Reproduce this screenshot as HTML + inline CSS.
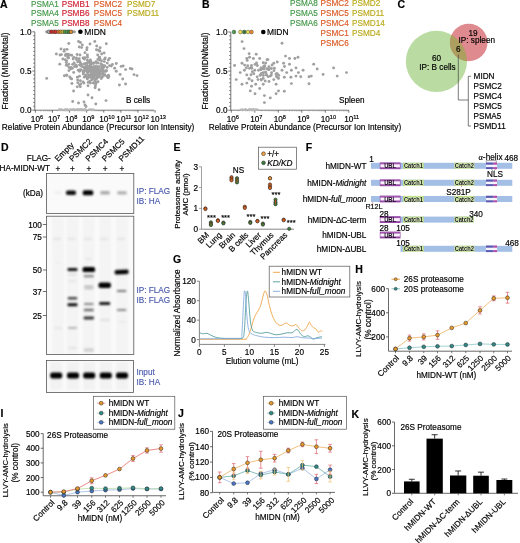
<!DOCTYPE html>
<html><head><meta charset="utf-8"><style>
html,body{margin:0;padding:0;background:#fff;overflow:hidden;}
svg{display:block;will-change:transform;}
</style></head><body>
<svg width="520" height="543" viewBox="0 0 520 543" font-family="Liberation Sans, sans-serif">
<defs><filter id="bl" x="-50%" y="-150%" width="200%" height="400%"><feGaussianBlur stdDeviation="0.9"/></filter></defs>
<rect width="520" height="543" fill="#fff"/>
<text x="0.00" y="8.30" font-size="10.5" fill="#000" text-anchor="start" font-weight="bold" font-style="normal" stroke="#000" stroke-width="0.17" >A</text>
<text x="31.00" y="6.60" font-size="8.2" fill="#45994a" text-anchor="start" font-weight="normal" font-style="normal" stroke="#45994a" stroke-width="0.17" >PSMA1</text>
<text x="61.70" y="6.60" font-size="8.2" fill="#d02638" text-anchor="start" font-weight="normal" font-style="normal" stroke="#d02638" stroke-width="0.17" >PSMB1</text>
<text x="93.80" y="6.60" font-size="8.2" fill="#dc5c28" text-anchor="start" font-weight="normal" font-style="normal" stroke="#dc5c28" stroke-width="0.17" >PSMC2</text>
<text x="127.00" y="6.60" font-size="8.2" fill="#bcab1e" text-anchor="start" font-weight="normal" font-style="normal" stroke="#bcab1e" stroke-width="0.17" >PSMD7</text>
<text x="31.00" y="16.20" font-size="8.2" fill="#45994a" text-anchor="start" font-weight="normal" font-style="normal" stroke="#45994a" stroke-width="0.17" >PSMA4</text>
<text x="61.70" y="16.20" font-size="8.2" fill="#d02638" text-anchor="start" font-weight="normal" font-style="normal" stroke="#d02638" stroke-width="0.17" >PSMB6</text>
<text x="93.80" y="16.20" font-size="8.2" fill="#dc5c28" text-anchor="start" font-weight="normal" font-style="normal" stroke="#dc5c28" stroke-width="0.17" >PSMC5</text>
<text x="127.00" y="16.20" font-size="8.2" fill="#bcab1e" text-anchor="start" font-weight="normal" font-style="normal" stroke="#bcab1e" stroke-width="0.17" >PSMD11</text>
<text x="31.00" y="25.80" font-size="8.2" fill="#45994a" text-anchor="start" font-weight="normal" font-style="normal" stroke="#45994a" stroke-width="0.17" >PSMA5</text>
<text x="61.70" y="25.80" font-size="8.2" fill="#d02638" text-anchor="start" font-weight="normal" font-style="normal" stroke="#d02638" stroke-width="0.17" >PSMB8</text>
<text x="93.80" y="25.80" font-size="8.2" fill="#dc5c28" text-anchor="start" font-weight="normal" font-style="normal" stroke="#dc5c28" stroke-width="0.17" >PSMC4</text>
<line x1="34.80" y1="31.80" x2="34.80" y2="110.70" stroke="#555" stroke-width="0.8" />
<line x1="34.80" y1="110.20" x2="154.10" y2="110.20" stroke="#555" stroke-width="0.8" />
<line x1="32.30" y1="31.80" x2="34.80" y2="31.80" stroke="#555" stroke-width="0.8" />
<text x="31.50" y="34.80" font-size="8.2" fill="#000" text-anchor="end" font-weight="normal" font-style="normal" stroke="#000" stroke-width="0.17" >1.0</text>
<line x1="32.30" y1="71.00" x2="34.80" y2="71.00" stroke="#555" stroke-width="0.8" />
<text x="31.50" y="74.00" font-size="8.2" fill="#000" text-anchor="end" font-weight="normal" font-style="normal" stroke="#000" stroke-width="0.17" >0.5</text>
<line x1="32.30" y1="110.20" x2="34.80" y2="110.20" stroke="#555" stroke-width="0.8" />
<text x="31.50" y="113.20" font-size="8.2" fill="#000" text-anchor="end" font-weight="normal" font-style="normal" stroke="#000" stroke-width="0.17" >0.0</text>
<line x1="33.10" y1="106.28" x2="34.80" y2="106.28" stroke="#555" stroke-width="0.7" />
<line x1="33.10" y1="102.36" x2="34.80" y2="102.36" stroke="#555" stroke-width="0.7" />
<line x1="33.10" y1="98.44" x2="34.80" y2="98.44" stroke="#555" stroke-width="0.7" />
<line x1="33.10" y1="94.52" x2="34.80" y2="94.52" stroke="#555" stroke-width="0.7" />
<line x1="33.10" y1="90.60" x2="34.80" y2="90.60" stroke="#555" stroke-width="0.7" />
<line x1="33.10" y1="86.68" x2="34.80" y2="86.68" stroke="#555" stroke-width="0.7" />
<line x1="33.10" y1="82.76" x2="34.80" y2="82.76" stroke="#555" stroke-width="0.7" />
<line x1="33.10" y1="78.84" x2="34.80" y2="78.84" stroke="#555" stroke-width="0.7" />
<line x1="33.10" y1="74.92" x2="34.80" y2="74.92" stroke="#555" stroke-width="0.7" />
<line x1="33.10" y1="67.08" x2="34.80" y2="67.08" stroke="#555" stroke-width="0.7" />
<line x1="33.10" y1="63.16" x2="34.80" y2="63.16" stroke="#555" stroke-width="0.7" />
<line x1="33.10" y1="59.24" x2="34.80" y2="59.24" stroke="#555" stroke-width="0.7" />
<line x1="33.10" y1="55.32" x2="34.80" y2="55.32" stroke="#555" stroke-width="0.7" />
<line x1="33.10" y1="51.40" x2="34.80" y2="51.40" stroke="#555" stroke-width="0.7" />
<line x1="33.10" y1="47.48" x2="34.80" y2="47.48" stroke="#555" stroke-width="0.7" />
<line x1="33.10" y1="43.56" x2="34.80" y2="43.56" stroke="#555" stroke-width="0.7" />
<line x1="33.10" y1="39.64" x2="34.80" y2="39.64" stroke="#555" stroke-width="0.7" />
<line x1="33.10" y1="35.72" x2="34.80" y2="35.72" stroke="#555" stroke-width="0.7" />
<line x1="35.40" y1="110.20" x2="35.40" y2="112.70" stroke="#555" stroke-width="0.8" />
<text x="30.84" y="122.40" font-size="8.2" stroke="#000" stroke-width="0.17">10<tspan font-size="5.6" dy="-3.6">6</tspan></text>
<line x1="40.55" y1="110.20" x2="40.55" y2="111.50" stroke="#888" stroke-width="0.45" />
<line x1="43.56" y1="110.20" x2="43.56" y2="111.50" stroke="#888" stroke-width="0.45" />
<line x1="45.70" y1="110.20" x2="45.70" y2="111.50" stroke="#888" stroke-width="0.45" />
<line x1="47.35" y1="110.20" x2="47.35" y2="111.50" stroke="#888" stroke-width="0.45" />
<line x1="48.71" y1="110.20" x2="48.71" y2="111.50" stroke="#888" stroke-width="0.45" />
<line x1="49.85" y1="110.20" x2="49.85" y2="111.50" stroke="#888" stroke-width="0.45" />
<line x1="50.84" y1="110.20" x2="50.84" y2="111.50" stroke="#888" stroke-width="0.45" />
<line x1="51.72" y1="110.20" x2="51.72" y2="111.50" stroke="#888" stroke-width="0.45" />
<line x1="52.50" y1="110.20" x2="52.50" y2="112.70" stroke="#555" stroke-width="0.8" />
<text x="47.94" y="122.40" font-size="8.2" stroke="#000" stroke-width="0.17">10<tspan font-size="5.6" dy="-3.6">7</tspan></text>
<line x1="57.65" y1="110.20" x2="57.65" y2="111.50" stroke="#888" stroke-width="0.45" />
<line x1="60.66" y1="110.20" x2="60.66" y2="111.50" stroke="#888" stroke-width="0.45" />
<line x1="62.80" y1="110.20" x2="62.80" y2="111.50" stroke="#888" stroke-width="0.45" />
<line x1="64.45" y1="110.20" x2="64.45" y2="111.50" stroke="#888" stroke-width="0.45" />
<line x1="65.81" y1="110.20" x2="65.81" y2="111.50" stroke="#888" stroke-width="0.45" />
<line x1="66.95" y1="110.20" x2="66.95" y2="111.50" stroke="#888" stroke-width="0.45" />
<line x1="67.94" y1="110.20" x2="67.94" y2="111.50" stroke="#888" stroke-width="0.45" />
<line x1="68.82" y1="110.20" x2="68.82" y2="111.50" stroke="#888" stroke-width="0.45" />
<line x1="69.60" y1="110.20" x2="69.60" y2="112.70" stroke="#555" stroke-width="0.8" />
<text x="65.04" y="122.40" font-size="8.2" stroke="#000" stroke-width="0.17">10<tspan font-size="5.6" dy="-3.6">8</tspan></text>
<line x1="74.75" y1="110.20" x2="74.75" y2="111.50" stroke="#888" stroke-width="0.45" />
<line x1="77.76" y1="110.20" x2="77.76" y2="111.50" stroke="#888" stroke-width="0.45" />
<line x1="79.90" y1="110.20" x2="79.90" y2="111.50" stroke="#888" stroke-width="0.45" />
<line x1="81.55" y1="110.20" x2="81.55" y2="111.50" stroke="#888" stroke-width="0.45" />
<line x1="82.91" y1="110.20" x2="82.91" y2="111.50" stroke="#888" stroke-width="0.45" />
<line x1="84.05" y1="110.20" x2="84.05" y2="111.50" stroke="#888" stroke-width="0.45" />
<line x1="85.04" y1="110.20" x2="85.04" y2="111.50" stroke="#888" stroke-width="0.45" />
<line x1="85.92" y1="110.20" x2="85.92" y2="111.50" stroke="#888" stroke-width="0.45" />
<line x1="86.70" y1="110.20" x2="86.70" y2="112.70" stroke="#555" stroke-width="0.8" />
<text x="82.14" y="122.40" font-size="8.2" stroke="#000" stroke-width="0.17">10<tspan font-size="5.6" dy="-3.6">9</tspan></text>
<line x1="91.85" y1="110.20" x2="91.85" y2="111.50" stroke="#888" stroke-width="0.45" />
<line x1="94.86" y1="110.20" x2="94.86" y2="111.50" stroke="#888" stroke-width="0.45" />
<line x1="97.00" y1="110.20" x2="97.00" y2="111.50" stroke="#888" stroke-width="0.45" />
<line x1="98.65" y1="110.20" x2="98.65" y2="111.50" stroke="#888" stroke-width="0.45" />
<line x1="100.01" y1="110.20" x2="100.01" y2="111.50" stroke="#888" stroke-width="0.45" />
<line x1="101.15" y1="110.20" x2="101.15" y2="111.50" stroke="#888" stroke-width="0.45" />
<line x1="102.14" y1="110.20" x2="102.14" y2="111.50" stroke="#888" stroke-width="0.45" />
<line x1="103.02" y1="110.20" x2="103.02" y2="111.50" stroke="#888" stroke-width="0.45" />
<line x1="103.80" y1="110.20" x2="103.80" y2="112.70" stroke="#555" stroke-width="0.8" />
<text x="99.24" y="122.40" font-size="8.2" stroke="#000" stroke-width="0.17">10<tspan font-size="5.6" dy="-3.6">10</tspan></text>
<line x1="108.95" y1="110.20" x2="108.95" y2="111.50" stroke="#888" stroke-width="0.45" />
<line x1="111.96" y1="110.20" x2="111.96" y2="111.50" stroke="#888" stroke-width="0.45" />
<line x1="114.10" y1="110.20" x2="114.10" y2="111.50" stroke="#888" stroke-width="0.45" />
<line x1="115.75" y1="110.20" x2="115.75" y2="111.50" stroke="#888" stroke-width="0.45" />
<line x1="117.11" y1="110.20" x2="117.11" y2="111.50" stroke="#888" stroke-width="0.45" />
<line x1="118.25" y1="110.20" x2="118.25" y2="111.50" stroke="#888" stroke-width="0.45" />
<line x1="119.24" y1="110.20" x2="119.24" y2="111.50" stroke="#888" stroke-width="0.45" />
<line x1="120.12" y1="110.20" x2="120.12" y2="111.50" stroke="#888" stroke-width="0.45" />
<line x1="120.90" y1="110.20" x2="120.90" y2="112.70" stroke="#555" stroke-width="0.8" />
<text x="116.34" y="122.40" font-size="8.2" stroke="#000" stroke-width="0.17">10<tspan font-size="5.6" dy="-3.6">11</tspan></text>
<line x1="126.05" y1="110.20" x2="126.05" y2="111.50" stroke="#888" stroke-width="0.45" />
<line x1="129.06" y1="110.20" x2="129.06" y2="111.50" stroke="#888" stroke-width="0.45" />
<line x1="131.20" y1="110.20" x2="131.20" y2="111.50" stroke="#888" stroke-width="0.45" />
<line x1="132.85" y1="110.20" x2="132.85" y2="111.50" stroke="#888" stroke-width="0.45" />
<line x1="134.21" y1="110.20" x2="134.21" y2="111.50" stroke="#888" stroke-width="0.45" />
<line x1="135.35" y1="110.20" x2="135.35" y2="111.50" stroke="#888" stroke-width="0.45" />
<line x1="136.34" y1="110.20" x2="136.34" y2="111.50" stroke="#888" stroke-width="0.45" />
<line x1="137.22" y1="110.20" x2="137.22" y2="111.50" stroke="#888" stroke-width="0.45" />
<line x1="138.00" y1="110.20" x2="138.00" y2="112.70" stroke="#555" stroke-width="0.8" />
<text x="133.44" y="122.40" font-size="8.2" stroke="#000" stroke-width="0.17">10<tspan font-size="5.6" dy="-3.6">12</tspan></text>
<line x1="143.15" y1="110.20" x2="143.15" y2="111.50" stroke="#888" stroke-width="0.45" />
<line x1="146.16" y1="110.20" x2="146.16" y2="111.50" stroke="#888" stroke-width="0.45" />
<line x1="148.30" y1="110.20" x2="148.30" y2="111.50" stroke="#888" stroke-width="0.45" />
<line x1="149.95" y1="110.20" x2="149.95" y2="111.50" stroke="#888" stroke-width="0.45" />
<line x1="151.31" y1="110.20" x2="151.31" y2="111.50" stroke="#888" stroke-width="0.45" />
<line x1="152.45" y1="110.20" x2="152.45" y2="111.50" stroke="#888" stroke-width="0.45" />
<line x1="153.44" y1="110.20" x2="153.44" y2="111.50" stroke="#888" stroke-width="0.45" />
<line x1="154.32" y1="110.20" x2="154.32" y2="111.50" stroke="#888" stroke-width="0.45" />
<line x1="155.10" y1="110.20" x2="155.10" y2="112.70" stroke="#555" stroke-width="0.8" />
<text x="150.54" y="122.40" font-size="8.2" stroke="#000" stroke-width="0.17">10<tspan font-size="5.6" dy="-3.6">13</tspan></text>
<text x="98.10" y="130.00" font-size="8.28" fill="#000" text-anchor="middle" font-weight="normal" font-style="normal" stroke="#000" stroke-width="0.17" >Relative Protein Abundance (Precursor Ion Intensity)</text>
<text transform="translate(8.00,71.00) rotate(-90)" font-size="8.3" text-anchor="middle" fill="#000" stroke="#000" stroke-width="0.17">Fraction (MIDN/total)</text>
<text x="126.00" y="103.00" font-size="8.2" fill="#000" text-anchor="start" font-weight="normal" font-style="normal" stroke="#000" stroke-width="0.17" >B cells</text>
<circle cx="73.70" cy="72.40" r="1.45" fill="#a0a0a0" stroke="none" stroke-width="0.5" />
<circle cx="101.44" cy="64.38" r="1.45" fill="#a0a0a0" stroke="none" stroke-width="0.5" />
<circle cx="72.39" cy="68.41" r="1.45" fill="#a0a0a0" stroke="none" stroke-width="0.5" />
<circle cx="94.98" cy="78.88" r="1.45" fill="#a0a0a0" stroke="none" stroke-width="0.5" />
<circle cx="73.80" cy="57.36" r="1.45" fill="#a0a0a0" stroke="none" stroke-width="0.5" />
<circle cx="97.82" cy="73.27" r="1.45" fill="#a0a0a0" stroke="none" stroke-width="0.5" />
<circle cx="108.17" cy="77.84" r="1.45" fill="#a0a0a0" stroke="none" stroke-width="0.5" />
<circle cx="87.73" cy="66.53" r="1.45" fill="#a0a0a0" stroke="none" stroke-width="0.5" />
<circle cx="121.13" cy="66.40" r="1.45" fill="#a0a0a0" stroke="none" stroke-width="0.5" />
<circle cx="79.19" cy="58.75" r="1.45" fill="#a0a0a0" stroke="none" stroke-width="0.5" />
<circle cx="90.19" cy="70.31" r="1.45" fill="#a0a0a0" stroke="none" stroke-width="0.5" />
<circle cx="84.69" cy="68.44" r="1.45" fill="#a0a0a0" stroke="none" stroke-width="0.5" />
<circle cx="92.41" cy="75.23" r="1.45" fill="#a0a0a0" stroke="none" stroke-width="0.5" />
<circle cx="102.71" cy="70.89" r="1.45" fill="#a0a0a0" stroke="none" stroke-width="0.5" />
<circle cx="66.63" cy="75.32" r="1.45" fill="#a0a0a0" stroke="none" stroke-width="0.5" />
<circle cx="71.25" cy="67.46" r="1.45" fill="#a0a0a0" stroke="none" stroke-width="0.5" />
<circle cx="70.58" cy="69.02" r="1.45" fill="#a0a0a0" stroke="none" stroke-width="0.5" />
<circle cx="79.27" cy="70.92" r="1.45" fill="#a0a0a0" stroke="none" stroke-width="0.5" />
<circle cx="130.25" cy="68.56" r="1.45" fill="#a0a0a0" stroke="none" stroke-width="0.5" />
<circle cx="99.53" cy="57.09" r="1.45" fill="#a0a0a0" stroke="none" stroke-width="0.5" />
<circle cx="85.40" cy="74.96" r="1.45" fill="#a0a0a0" stroke="none" stroke-width="0.5" />
<circle cx="87.84" cy="72.33" r="1.45" fill="#a0a0a0" stroke="none" stroke-width="0.5" />
<circle cx="90.29" cy="59.94" r="1.45" fill="#a0a0a0" stroke="none" stroke-width="0.5" />
<circle cx="96.05" cy="61.69" r="1.45" fill="#a0a0a0" stroke="none" stroke-width="0.5" />
<circle cx="112.40" cy="64.45" r="1.45" fill="#a0a0a0" stroke="none" stroke-width="0.5" />
<circle cx="97.58" cy="69.02" r="1.45" fill="#a0a0a0" stroke="none" stroke-width="0.5" />
<circle cx="100.91" cy="63.58" r="1.45" fill="#a0a0a0" stroke="none" stroke-width="0.5" />
<circle cx="101.49" cy="67.88" r="1.45" fill="#a0a0a0" stroke="none" stroke-width="0.5" />
<circle cx="104.79" cy="74.62" r="1.45" fill="#a0a0a0" stroke="none" stroke-width="0.5" />
<circle cx="90.77" cy="61.98" r="1.45" fill="#a0a0a0" stroke="none" stroke-width="0.5" />
<circle cx="98.60" cy="73.21" r="1.45" fill="#a0a0a0" stroke="none" stroke-width="0.5" />
<circle cx="109.52" cy="65.61" r="1.45" fill="#a0a0a0" stroke="none" stroke-width="0.5" />
<circle cx="95.93" cy="73.57" r="1.45" fill="#a0a0a0" stroke="none" stroke-width="0.5" />
<circle cx="92.54" cy="70.88" r="1.45" fill="#a0a0a0" stroke="none" stroke-width="0.5" />
<circle cx="91.28" cy="63.61" r="1.45" fill="#a0a0a0" stroke="none" stroke-width="0.5" />
<circle cx="76.32" cy="65.43" r="1.45" fill="#a0a0a0" stroke="none" stroke-width="0.5" />
<circle cx="96.39" cy="82.60" r="1.45" fill="#a0a0a0" stroke="none" stroke-width="0.5" />
<circle cx="101.21" cy="78.48" r="1.45" fill="#a0a0a0" stroke="none" stroke-width="0.5" />
<circle cx="98.72" cy="75.29" r="1.45" fill="#a0a0a0" stroke="none" stroke-width="0.5" />
<circle cx="91.29" cy="75.94" r="1.45" fill="#a0a0a0" stroke="none" stroke-width="0.5" />
<circle cx="111.17" cy="66.05" r="1.45" fill="#a0a0a0" stroke="none" stroke-width="0.5" />
<circle cx="80.33" cy="86.64" r="1.45" fill="#a0a0a0" stroke="none" stroke-width="0.5" />
<circle cx="92.06" cy="77.74" r="1.45" fill="#a0a0a0" stroke="none" stroke-width="0.5" />
<circle cx="99.92" cy="58.78" r="1.45" fill="#a0a0a0" stroke="none" stroke-width="0.5" />
<circle cx="119.42" cy="84.98" r="1.45" fill="#a0a0a0" stroke="none" stroke-width="0.5" />
<circle cx="91.21" cy="75.77" r="1.45" fill="#a0a0a0" stroke="none" stroke-width="0.5" />
<circle cx="90.59" cy="61.04" r="1.45" fill="#a0a0a0" stroke="none" stroke-width="0.5" />
<circle cx="87.60" cy="72.37" r="1.45" fill="#a0a0a0" stroke="none" stroke-width="0.5" />
<circle cx="102.95" cy="75.38" r="1.45" fill="#a0a0a0" stroke="none" stroke-width="0.5" />
<circle cx="89.74" cy="81.19" r="1.45" fill="#a0a0a0" stroke="none" stroke-width="0.5" />
<circle cx="79.49" cy="76.14" r="1.45" fill="#a0a0a0" stroke="none" stroke-width="0.5" />
<circle cx="102.90" cy="66.37" r="1.45" fill="#a0a0a0" stroke="none" stroke-width="0.5" />
<circle cx="66.62" cy="60.84" r="1.45" fill="#a0a0a0" stroke="none" stroke-width="0.5" />
<circle cx="91.96" cy="73.75" r="1.45" fill="#a0a0a0" stroke="none" stroke-width="0.5" />
<circle cx="108.35" cy="59.96" r="1.45" fill="#a0a0a0" stroke="none" stroke-width="0.5" />
<circle cx="89.03" cy="74.84" r="1.45" fill="#a0a0a0" stroke="none" stroke-width="0.5" />
<circle cx="87.03" cy="47.67" r="1.45" fill="#a0a0a0" stroke="none" stroke-width="0.5" />
<circle cx="99.08" cy="89.81" r="1.45" fill="#a0a0a0" stroke="none" stroke-width="0.5" />
<circle cx="101.55" cy="60.74" r="1.45" fill="#a0a0a0" stroke="none" stroke-width="0.5" />
<circle cx="83.85" cy="71.00" r="1.45" fill="#a0a0a0" stroke="none" stroke-width="0.5" />
<circle cx="120.11" cy="74.56" r="1.45" fill="#a0a0a0" stroke="none" stroke-width="0.5" />
<circle cx="90.42" cy="83.02" r="1.45" fill="#a0a0a0" stroke="none" stroke-width="0.5" />
<circle cx="87.98" cy="85.75" r="1.45" fill="#a0a0a0" stroke="none" stroke-width="0.5" />
<circle cx="80.44" cy="64.73" r="1.45" fill="#a0a0a0" stroke="none" stroke-width="0.5" />
<circle cx="98.01" cy="81.82" r="1.45" fill="#a0a0a0" stroke="none" stroke-width="0.5" />
<circle cx="97.17" cy="71.71" r="1.45" fill="#a0a0a0" stroke="none" stroke-width="0.5" />
<circle cx="66.23" cy="62.58" r="1.45" fill="#a0a0a0" stroke="none" stroke-width="0.5" />
<circle cx="81.37" cy="64.20" r="1.45" fill="#a0a0a0" stroke="none" stroke-width="0.5" />
<circle cx="96.33" cy="65.98" r="1.45" fill="#a0a0a0" stroke="none" stroke-width="0.5" />
<circle cx="98.85" cy="69.74" r="1.45" fill="#a0a0a0" stroke="none" stroke-width="0.5" />
<circle cx="84.84" cy="70.06" r="1.45" fill="#a0a0a0" stroke="none" stroke-width="0.5" />
<circle cx="94.36" cy="76.72" r="1.45" fill="#a0a0a0" stroke="none" stroke-width="0.5" />
<circle cx="83.03" cy="66.91" r="1.45" fill="#a0a0a0" stroke="none" stroke-width="0.5" />
<circle cx="71.95" cy="83.43" r="1.45" fill="#a0a0a0" stroke="none" stroke-width="0.5" />
<circle cx="107.15" cy="67.39" r="1.45" fill="#a0a0a0" stroke="none" stroke-width="0.5" />
<circle cx="83.02" cy="57.88" r="1.45" fill="#a0a0a0" stroke="none" stroke-width="0.5" />
<circle cx="91.12" cy="70.86" r="1.45" fill="#a0a0a0" stroke="none" stroke-width="0.5" />
<circle cx="116.27" cy="71.22" r="1.45" fill="#a0a0a0" stroke="none" stroke-width="0.5" />
<circle cx="79.28" cy="47.00" r="1.45" fill="#a0a0a0" stroke="none" stroke-width="0.5" />
<circle cx="106.62" cy="70.70" r="1.45" fill="#a0a0a0" stroke="none" stroke-width="0.5" />
<circle cx="68.88" cy="70.62" r="1.45" fill="#a0a0a0" stroke="none" stroke-width="0.5" />
<circle cx="102.99" cy="74.15" r="1.45" fill="#a0a0a0" stroke="none" stroke-width="0.5" />
<circle cx="86.81" cy="49.74" r="1.45" fill="#a0a0a0" stroke="none" stroke-width="0.5" />
<circle cx="87.42" cy="55.01" r="1.45" fill="#a0a0a0" stroke="none" stroke-width="0.5" />
<circle cx="96.45" cy="49.75" r="1.45" fill="#a0a0a0" stroke="none" stroke-width="0.5" />
<circle cx="77.65" cy="79.98" r="1.45" fill="#a0a0a0" stroke="none" stroke-width="0.5" />
<circle cx="109.55" cy="58.37" r="1.45" fill="#a0a0a0" stroke="none" stroke-width="0.5" />
<circle cx="69.83" cy="76.91" r="1.45" fill="#a0a0a0" stroke="none" stroke-width="0.5" />
<circle cx="99.66" cy="60.12" r="1.45" fill="#a0a0a0" stroke="none" stroke-width="0.5" />
<circle cx="80.32" cy="62.75" r="1.45" fill="#a0a0a0" stroke="none" stroke-width="0.5" />
<circle cx="74.13" cy="62.88" r="1.45" fill="#a0a0a0" stroke="none" stroke-width="0.5" />
<circle cx="104.63" cy="75.21" r="1.45" fill="#a0a0a0" stroke="none" stroke-width="0.5" />
<circle cx="114.71" cy="68.22" r="1.45" fill="#a0a0a0" stroke="none" stroke-width="0.5" />
<circle cx="87.31" cy="60.16" r="1.45" fill="#a0a0a0" stroke="none" stroke-width="0.5" />
<circle cx="87.45" cy="57.18" r="1.45" fill="#a0a0a0" stroke="none" stroke-width="0.5" />
<circle cx="66.78" cy="75.27" r="1.45" fill="#a0a0a0" stroke="none" stroke-width="0.5" />
<circle cx="107.00" cy="76.53" r="1.45" fill="#a0a0a0" stroke="none" stroke-width="0.5" />
<circle cx="105.66" cy="71.27" r="1.45" fill="#a0a0a0" stroke="none" stroke-width="0.5" />
<circle cx="80.02" cy="69.78" r="1.45" fill="#a0a0a0" stroke="none" stroke-width="0.5" />
<circle cx="84.32" cy="59.00" r="1.45" fill="#a0a0a0" stroke="none" stroke-width="0.5" />
<circle cx="67.84" cy="55.66" r="1.45" fill="#a0a0a0" stroke="none" stroke-width="0.5" />
<circle cx="88.93" cy="70.36" r="1.45" fill="#a0a0a0" stroke="none" stroke-width="0.5" />
<circle cx="83.07" cy="81.86" r="1.45" fill="#a0a0a0" stroke="none" stroke-width="0.5" />
<circle cx="91.24" cy="74.25" r="1.45" fill="#a0a0a0" stroke="none" stroke-width="0.5" />
<circle cx="104.23" cy="61.62" r="1.45" fill="#a0a0a0" stroke="none" stroke-width="0.5" />
<circle cx="64.38" cy="75.77" r="1.45" fill="#a0a0a0" stroke="none" stroke-width="0.5" />
<circle cx="80.39" cy="80.80" r="1.45" fill="#a0a0a0" stroke="none" stroke-width="0.5" />
<circle cx="93.22" cy="78.06" r="1.45" fill="#a0a0a0" stroke="none" stroke-width="0.5" />
<circle cx="98.55" cy="50.27" r="1.45" fill="#a0a0a0" stroke="none" stroke-width="0.5" />
<circle cx="97.99" cy="62.94" r="1.45" fill="#a0a0a0" stroke="none" stroke-width="0.5" />
<circle cx="79.55" cy="65.08" r="1.45" fill="#a0a0a0" stroke="none" stroke-width="0.5" />
<circle cx="98.60" cy="76.96" r="1.45" fill="#a0a0a0" stroke="none" stroke-width="0.5" />
<circle cx="101.64" cy="54.06" r="1.45" fill="#a0a0a0" stroke="none" stroke-width="0.5" />
<circle cx="81.62" cy="47.62" r="1.45" fill="#a0a0a0" stroke="none" stroke-width="0.5" />
<circle cx="87.72" cy="74.40" r="1.45" fill="#a0a0a0" stroke="none" stroke-width="0.5" />
<circle cx="79.45" cy="71.20" r="1.45" fill="#a0a0a0" stroke="none" stroke-width="0.5" />
<circle cx="91.89" cy="78.07" r="1.45" fill="#a0a0a0" stroke="none" stroke-width="0.5" />
<circle cx="78.73" cy="61.54" r="1.45" fill="#a0a0a0" stroke="none" stroke-width="0.5" />
<circle cx="79.46" cy="84.77" r="1.45" fill="#a0a0a0" stroke="none" stroke-width="0.5" />
<circle cx="102.63" cy="67.89" r="1.45" fill="#a0a0a0" stroke="none" stroke-width="0.5" />
<circle cx="91.82" cy="70.03" r="1.45" fill="#a0a0a0" stroke="none" stroke-width="0.5" />
<circle cx="91.54" cy="67.12" r="1.45" fill="#a0a0a0" stroke="none" stroke-width="0.5" />
<circle cx="84.82" cy="57.69" r="1.45" fill="#a0a0a0" stroke="none" stroke-width="0.5" />
<circle cx="80.98" cy="83.85" r="1.45" fill="#a0a0a0" stroke="none" stroke-width="0.5" />
<circle cx="95.71" cy="69.58" r="1.45" fill="#a0a0a0" stroke="none" stroke-width="0.5" />
<circle cx="86.31" cy="69.56" r="1.45" fill="#a0a0a0" stroke="none" stroke-width="0.5" />
<circle cx="93.42" cy="63.19" r="1.45" fill="#a0a0a0" stroke="none" stroke-width="0.5" />
<circle cx="91.45" cy="71.16" r="1.45" fill="#a0a0a0" stroke="none" stroke-width="0.5" />
<circle cx="79.64" cy="61.90" r="1.45" fill="#a0a0a0" stroke="none" stroke-width="0.5" />
<circle cx="76.51" cy="59.43" r="1.45" fill="#a0a0a0" stroke="none" stroke-width="0.5" />
<circle cx="100.12" cy="47.76" r="1.45" fill="#a0a0a0" stroke="none" stroke-width="0.5" />
<circle cx="85.67" cy="63.50" r="1.45" fill="#a0a0a0" stroke="none" stroke-width="0.5" />
<circle cx="81.25" cy="69.88" r="1.45" fill="#a0a0a0" stroke="none" stroke-width="0.5" />
<circle cx="103.10" cy="69.69" r="1.45" fill="#a0a0a0" stroke="none" stroke-width="0.5" />
<circle cx="87.25" cy="63.49" r="1.45" fill="#a0a0a0" stroke="none" stroke-width="0.5" />
<circle cx="87.39" cy="77.21" r="1.45" fill="#a0a0a0" stroke="none" stroke-width="0.5" />
<circle cx="84.07" cy="58.68" r="1.45" fill="#a0a0a0" stroke="none" stroke-width="0.5" />
<circle cx="73.20" cy="59.04" r="1.45" fill="#a0a0a0" stroke="none" stroke-width="0.5" />
<circle cx="71.63" cy="78.89" r="1.45" fill="#a0a0a0" stroke="none" stroke-width="0.5" />
<circle cx="93.44" cy="66.86" r="1.45" fill="#a0a0a0" stroke="none" stroke-width="0.5" />
<circle cx="107.24" cy="63.08" r="1.45" fill="#a0a0a0" stroke="none" stroke-width="0.5" />
<circle cx="98.41" cy="76.21" r="1.45" fill="#a0a0a0" stroke="none" stroke-width="0.5" />
<circle cx="69.67" cy="54.99" r="1.45" fill="#a0a0a0" stroke="none" stroke-width="0.5" />
<circle cx="77.41" cy="77.16" r="1.45" fill="#a0a0a0" stroke="none" stroke-width="0.5" />
<circle cx="105.20" cy="57.95" r="1.45" fill="#a0a0a0" stroke="none" stroke-width="0.5" />
<circle cx="102.11" cy="65.55" r="1.45" fill="#a0a0a0" stroke="none" stroke-width="0.5" />
<circle cx="84.08" cy="64.04" r="1.45" fill="#a0a0a0" stroke="none" stroke-width="0.5" />
<circle cx="84.95" cy="52.64" r="1.45" fill="#a0a0a0" stroke="none" stroke-width="0.5" />
<circle cx="76.48" cy="57.88" r="1.45" fill="#a0a0a0" stroke="none" stroke-width="0.5" />
<circle cx="95.13" cy="87.80" r="1.45" fill="#a0a0a0" stroke="none" stroke-width="0.5" />
<circle cx="123.15" cy="65.97" r="1.45" fill="#a0a0a0" stroke="none" stroke-width="0.5" />
<circle cx="67.48" cy="65.34" r="1.45" fill="#a0a0a0" stroke="none" stroke-width="0.5" />
<circle cx="77.26" cy="86.85" r="1.45" fill="#a0a0a0" stroke="none" stroke-width="0.5" />
<circle cx="96.14" cy="62.44" r="1.45" fill="#a0a0a0" stroke="none" stroke-width="0.5" />
<circle cx="100.70" cy="73.82" r="1.45" fill="#a0a0a0" stroke="none" stroke-width="0.5" />
<circle cx="68.68" cy="64.22" r="1.45" fill="#a0a0a0" stroke="none" stroke-width="0.5" />
<circle cx="86.01" cy="69.17" r="1.45" fill="#a0a0a0" stroke="none" stroke-width="0.5" />
<circle cx="90.65" cy="65.95" r="1.45" fill="#a0a0a0" stroke="none" stroke-width="0.5" />
<circle cx="91.37" cy="63.72" r="1.45" fill="#a0a0a0" stroke="none" stroke-width="0.5" />
<circle cx="77.79" cy="82.64" r="1.45" fill="#a0a0a0" stroke="none" stroke-width="0.5" />
<circle cx="93.50" cy="72.94" r="1.45" fill="#a0a0a0" stroke="none" stroke-width="0.5" />
<circle cx="69.06" cy="67.50" r="1.45" fill="#a0a0a0" stroke="none" stroke-width="0.5" />
<circle cx="99.24" cy="57.38" r="1.45" fill="#a0a0a0" stroke="none" stroke-width="0.5" />
<circle cx="102.72" cy="65.50" r="1.45" fill="#a0a0a0" stroke="none" stroke-width="0.5" />
<circle cx="94.03" cy="67.80" r="1.45" fill="#a0a0a0" stroke="none" stroke-width="0.5" />
<circle cx="91.73" cy="79.83" r="1.45" fill="#a0a0a0" stroke="none" stroke-width="0.5" />
<circle cx="83.96" cy="83.08" r="1.45" fill="#a0a0a0" stroke="none" stroke-width="0.5" />
<circle cx="79.23" cy="60.61" r="1.45" fill="#a0a0a0" stroke="none" stroke-width="0.5" />
<circle cx="97.89" cy="59.41" r="1.45" fill="#a0a0a0" stroke="none" stroke-width="0.5" />
<circle cx="84.37" cy="77.16" r="1.45" fill="#a0a0a0" stroke="none" stroke-width="0.5" />
<circle cx="104.13" cy="53.03" r="1.45" fill="#a0a0a0" stroke="none" stroke-width="0.5" />
<circle cx="95.32" cy="85.95" r="1.45" fill="#a0a0a0" stroke="none" stroke-width="0.5" />
<circle cx="103.94" cy="66.84" r="1.45" fill="#a0a0a0" stroke="none" stroke-width="0.5" />
<circle cx="81.49" cy="66.33" r="1.45" fill="#a0a0a0" stroke="none" stroke-width="0.5" />
<circle cx="74.59" cy="66.62" r="1.45" fill="#a0a0a0" stroke="none" stroke-width="0.5" />
<circle cx="86.66" cy="67.69" r="1.45" fill="#a0a0a0" stroke="none" stroke-width="0.5" />
<circle cx="103.78" cy="66.93" r="1.45" fill="#a0a0a0" stroke="none" stroke-width="0.5" />
<circle cx="70.78" cy="78.46" r="1.45" fill="#a0a0a0" stroke="none" stroke-width="0.5" />
<circle cx="75.59" cy="64.97" r="1.45" fill="#a0a0a0" stroke="none" stroke-width="0.5" />
<circle cx="87.33" cy="65.90" r="1.45" fill="#a0a0a0" stroke="none" stroke-width="0.5" />
<circle cx="76.46" cy="66.76" r="1.45" fill="#a0a0a0" stroke="none" stroke-width="0.5" />
<circle cx="116.30" cy="63.54" r="1.45" fill="#a0a0a0" stroke="none" stroke-width="0.5" />
<circle cx="87.30" cy="79.12" r="1.45" fill="#a0a0a0" stroke="none" stroke-width="0.5" />
<circle cx="98.31" cy="75.87" r="1.45" fill="#a0a0a0" stroke="none" stroke-width="0.5" />
<circle cx="99.78" cy="51.29" r="1.45" fill="#a0a0a0" stroke="none" stroke-width="0.5" />
<circle cx="78.20" cy="70.16" r="1.45" fill="#a0a0a0" stroke="none" stroke-width="0.5" />
<circle cx="95.24" cy="80.65" r="1.45" fill="#a0a0a0" stroke="none" stroke-width="0.5" />
<circle cx="94.87" cy="66.86" r="1.45" fill="#a0a0a0" stroke="none" stroke-width="0.5" />
<circle cx="89.49" cy="67.10" r="1.45" fill="#a0a0a0" stroke="none" stroke-width="0.5" />
<circle cx="92.09" cy="75.07" r="1.45" fill="#a0a0a0" stroke="none" stroke-width="0.5" />
<circle cx="91.79" cy="67.93" r="1.45" fill="#a0a0a0" stroke="none" stroke-width="0.5" />
<circle cx="88.44" cy="77.48" r="1.45" fill="#a0a0a0" stroke="none" stroke-width="0.5" />
<circle cx="102.33" cy="76.96" r="1.45" fill="#a0a0a0" stroke="none" stroke-width="0.5" />
<circle cx="99.57" cy="76.17" r="1.45" fill="#a0a0a0" stroke="none" stroke-width="0.5" />
<circle cx="93.98" cy="75.32" r="1.45" fill="#a0a0a0" stroke="none" stroke-width="0.5" />
<circle cx="87.16" cy="70.98" r="1.45" fill="#a0a0a0" stroke="none" stroke-width="0.5" />
<circle cx="89.23" cy="75.63" r="1.45" fill="#a0a0a0" stroke="none" stroke-width="0.5" />
<circle cx="90.23" cy="71.46" r="1.45" fill="#a0a0a0" stroke="none" stroke-width="0.5" />
<circle cx="96.60" cy="78.77" r="1.45" fill="#a0a0a0" stroke="none" stroke-width="0.5" />
<circle cx="88.85" cy="67.31" r="1.45" fill="#a0a0a0" stroke="none" stroke-width="0.5" />
<circle cx="99.31" cy="66.47" r="1.45" fill="#a0a0a0" stroke="none" stroke-width="0.5" />
<circle cx="96.94" cy="69.15" r="1.45" fill="#a0a0a0" stroke="none" stroke-width="0.5" />
<circle cx="93.31" cy="62.90" r="1.45" fill="#a0a0a0" stroke="none" stroke-width="0.5" />
<circle cx="98.64" cy="69.50" r="1.45" fill="#a0a0a0" stroke="none" stroke-width="0.5" />
<circle cx="88.16" cy="82.39" r="1.45" fill="#a0a0a0" stroke="none" stroke-width="0.5" />
<circle cx="96.65" cy="70.26" r="1.45" fill="#a0a0a0" stroke="none" stroke-width="0.5" />
<circle cx="94.70" cy="80.03" r="1.45" fill="#a0a0a0" stroke="none" stroke-width="0.5" />
<circle cx="93.82" cy="74.25" r="1.45" fill="#a0a0a0" stroke="none" stroke-width="0.5" />
<circle cx="97.36" cy="67.45" r="1.45" fill="#a0a0a0" stroke="none" stroke-width="0.5" />
<circle cx="94.84" cy="69.49" r="1.45" fill="#a0a0a0" stroke="none" stroke-width="0.5" />
<circle cx="85.90" cy="76.36" r="1.45" fill="#a0a0a0" stroke="none" stroke-width="0.5" />
<circle cx="98.33" cy="72.37" r="1.45" fill="#a0a0a0" stroke="none" stroke-width="0.5" />
<circle cx="88.10" cy="61.97" r="1.45" fill="#a0a0a0" stroke="none" stroke-width="0.5" />
<circle cx="97.16" cy="71.51" r="1.45" fill="#a0a0a0" stroke="none" stroke-width="0.5" />
<circle cx="83.06" cy="71.70" r="1.45" fill="#a0a0a0" stroke="none" stroke-width="0.5" />
<circle cx="84.11" cy="71.87" r="1.45" fill="#a0a0a0" stroke="none" stroke-width="0.5" />
<circle cx="94.93" cy="73.77" r="1.45" fill="#a0a0a0" stroke="none" stroke-width="0.5" />
<circle cx="95.41" cy="72.85" r="1.45" fill="#a0a0a0" stroke="none" stroke-width="0.5" />
<circle cx="86.59" cy="70.08" r="1.45" fill="#a0a0a0" stroke="none" stroke-width="0.5" />
<circle cx="90.68" cy="70.82" r="1.45" fill="#a0a0a0" stroke="none" stroke-width="0.5" />
<circle cx="95.76" cy="75.10" r="1.45" fill="#a0a0a0" stroke="none" stroke-width="0.5" />
<circle cx="104.63" cy="59.16" r="1.45" fill="#a0a0a0" stroke="none" stroke-width="0.5" />
<circle cx="96.61" cy="71.01" r="1.45" fill="#a0a0a0" stroke="none" stroke-width="0.5" />
<circle cx="108.79" cy="76.67" r="1.45" fill="#a0a0a0" stroke="none" stroke-width="0.5" />
<circle cx="83.25" cy="74.01" r="1.45" fill="#a0a0a0" stroke="none" stroke-width="0.5" />
<circle cx="90.62" cy="76.97" r="1.45" fill="#a0a0a0" stroke="none" stroke-width="0.5" />
<circle cx="87.14" cy="71.49" r="1.45" fill="#a0a0a0" stroke="none" stroke-width="0.5" />
<circle cx="93.14" cy="71.52" r="1.45" fill="#a0a0a0" stroke="none" stroke-width="0.5" />
<circle cx="90.20" cy="62.81" r="1.45" fill="#a0a0a0" stroke="none" stroke-width="0.5" />
<circle cx="96.99" cy="77.00" r="1.45" fill="#a0a0a0" stroke="none" stroke-width="0.5" />
<circle cx="93.56" cy="66.91" r="1.45" fill="#a0a0a0" stroke="none" stroke-width="0.5" />
<circle cx="95.32" cy="74.83" r="1.45" fill="#a0a0a0" stroke="none" stroke-width="0.5" />
<circle cx="92.86" cy="71.93" r="1.45" fill="#a0a0a0" stroke="none" stroke-width="0.5" />
<circle cx="103.16" cy="66.41" r="1.45" fill="#a0a0a0" stroke="none" stroke-width="0.5" />
<circle cx="90.37" cy="62.47" r="1.45" fill="#a0a0a0" stroke="none" stroke-width="0.5" />
<circle cx="89.45" cy="68.30" r="1.45" fill="#a0a0a0" stroke="none" stroke-width="0.5" />
<circle cx="87.76" cy="68.53" r="1.45" fill="#a0a0a0" stroke="none" stroke-width="0.5" />
<circle cx="105.68" cy="71.02" r="1.45" fill="#a0a0a0" stroke="none" stroke-width="0.5" />
<circle cx="93.26" cy="82.99" r="1.45" fill="#a0a0a0" stroke="none" stroke-width="0.5" />
<circle cx="93.61" cy="63.33" r="1.45" fill="#a0a0a0" stroke="none" stroke-width="0.5" />
<circle cx="96.62" cy="67.31" r="1.45" fill="#a0a0a0" stroke="none" stroke-width="0.5" />
<circle cx="104.65" cy="65.77" r="1.45" fill="#a0a0a0" stroke="none" stroke-width="0.5" />
<circle cx="90.23" cy="63.97" r="1.45" fill="#a0a0a0" stroke="none" stroke-width="0.5" />
<circle cx="94.63" cy="66.92" r="1.45" fill="#a0a0a0" stroke="none" stroke-width="0.5" />
<circle cx="93.57" cy="70.12" r="1.45" fill="#a0a0a0" stroke="none" stroke-width="0.5" />
<circle cx="90.02" cy="76.72" r="1.45" fill="#a0a0a0" stroke="none" stroke-width="0.5" />
<circle cx="100.08" cy="72.31" r="1.45" fill="#a0a0a0" stroke="none" stroke-width="0.5" />
<circle cx="88.15" cy="66.65" r="1.45" fill="#a0a0a0" stroke="none" stroke-width="0.5" />
<circle cx="95.75" cy="83.95" r="1.45" fill="#a0a0a0" stroke="none" stroke-width="0.5" />
<circle cx="91.03" cy="68.08" r="1.45" fill="#a0a0a0" stroke="none" stroke-width="0.5" />
<circle cx="89.47" cy="66.52" r="1.45" fill="#a0a0a0" stroke="none" stroke-width="0.5" />
<circle cx="87.68" cy="70.97" r="1.45" fill="#a0a0a0" stroke="none" stroke-width="0.5" />
<circle cx="103.32" cy="71.99" r="1.45" fill="#a0a0a0" stroke="none" stroke-width="0.5" />
<circle cx="90.68" cy="63.93" r="1.45" fill="#a0a0a0" stroke="none" stroke-width="0.5" />
<circle cx="95.39" cy="71.87" r="1.45" fill="#a0a0a0" stroke="none" stroke-width="0.5" />
<circle cx="86.03" cy="66.57" r="1.45" fill="#a0a0a0" stroke="none" stroke-width="0.5" />
<circle cx="93.73" cy="77.06" r="1.45" fill="#a0a0a0" stroke="none" stroke-width="0.5" />
<circle cx="98.07" cy="73.03" r="1.45" fill="#a0a0a0" stroke="none" stroke-width="0.5" />
<circle cx="91.90" cy="73.60" r="1.45" fill="#a0a0a0" stroke="none" stroke-width="0.5" />
<circle cx="93.92" cy="82.86" r="1.45" fill="#a0a0a0" stroke="none" stroke-width="0.5" />
<circle cx="86.64" cy="70.16" r="1.45" fill="#a0a0a0" stroke="none" stroke-width="0.5" />
<circle cx="102.24" cy="70.67" r="1.45" fill="#a0a0a0" stroke="none" stroke-width="0.5" />
<circle cx="103.26" cy="71.78" r="1.45" fill="#a0a0a0" stroke="none" stroke-width="0.5" />
<circle cx="94.95" cy="70.15" r="1.45" fill="#a0a0a0" stroke="none" stroke-width="0.5" />
<circle cx="85.03" cy="67.15" r="1.45" fill="#a0a0a0" stroke="none" stroke-width="0.5" />
<circle cx="108.40" cy="75.23" r="1.45" fill="#a0a0a0" stroke="none" stroke-width="0.5" />
<circle cx="97.94" cy="76.77" r="1.45" fill="#a0a0a0" stroke="none" stroke-width="0.5" />
<circle cx="97.70" cy="77.11" r="1.45" fill="#a0a0a0" stroke="none" stroke-width="0.5" />
<circle cx="92.27" cy="70.88" r="1.45" fill="#a0a0a0" stroke="none" stroke-width="0.5" />
<circle cx="100.39" cy="70.24" r="1.45" fill="#a0a0a0" stroke="none" stroke-width="0.5" />
<circle cx="61.35" cy="54.64" r="1.45" fill="#a0a0a0" stroke="none" stroke-width="0.5" />
<circle cx="65.28" cy="59.68" r="1.45" fill="#a0a0a0" stroke="none" stroke-width="0.5" />
<circle cx="64.40" cy="49.63" r="1.45" fill="#a0a0a0" stroke="none" stroke-width="0.5" />
<circle cx="66.34" cy="65.32" r="1.45" fill="#a0a0a0" stroke="none" stroke-width="0.5" />
<circle cx="67.76" cy="56.97" r="1.45" fill="#a0a0a0" stroke="none" stroke-width="0.5" />
<circle cx="68.05" cy="57.77" r="1.45" fill="#a0a0a0" stroke="none" stroke-width="0.5" />
<circle cx="72.64" cy="64.37" r="1.45" fill="#a0a0a0" stroke="none" stroke-width="0.5" />
<circle cx="59.78" cy="64.17" r="1.45" fill="#a0a0a0" stroke="none" stroke-width="0.5" />
<circle cx="67.98" cy="54.08" r="1.45" fill="#a0a0a0" stroke="none" stroke-width="0.5" />
<circle cx="79.99" cy="54.98" r="1.45" fill="#a0a0a0" stroke="none" stroke-width="0.5" />
<circle cx="77.72" cy="61.81" r="1.45" fill="#a0a0a0" stroke="none" stroke-width="0.5" />
<circle cx="62.85" cy="58.93" r="1.45" fill="#a0a0a0" stroke="none" stroke-width="0.5" />
<circle cx="71.68" cy="55.25" r="1.45" fill="#a0a0a0" stroke="none" stroke-width="0.5" />
<circle cx="56.36" cy="53.94" r="1.45" fill="#a0a0a0" stroke="none" stroke-width="0.5" />
<circle cx="67.04" cy="49.35" r="1.45" fill="#a0a0a0" stroke="none" stroke-width="0.5" />
<circle cx="77.13" cy="54.53" r="1.45" fill="#a0a0a0" stroke="none" stroke-width="0.5" />
<circle cx="66.03" cy="54.20" r="1.45" fill="#a0a0a0" stroke="none" stroke-width="0.5" />
<circle cx="64.08" cy="51.34" r="1.45" fill="#a0a0a0" stroke="none" stroke-width="0.5" />
<circle cx="68.47" cy="57.88" r="1.45" fill="#a0a0a0" stroke="none" stroke-width="0.5" />
<circle cx="65.46" cy="55.46" r="1.45" fill="#a0a0a0" stroke="none" stroke-width="0.5" />
<circle cx="46.70" cy="78.40" r="1.45" fill="#a0a0a0" stroke="none" stroke-width="0.5" />
<circle cx="125.60" cy="69.60" r="1.45" fill="#a0a0a0" stroke="none" stroke-width="0.5" />
<circle cx="132.00" cy="69.00" r="1.45" fill="#a0a0a0" stroke="none" stroke-width="0.5" />
<circle cx="134.00" cy="74.60" r="1.45" fill="#a0a0a0" stroke="none" stroke-width="0.5" />
<circle cx="137.00" cy="75.60" r="1.45" fill="#a0a0a0" stroke="none" stroke-width="0.5" />
<circle cx="122.70" cy="79.00" r="1.45" fill="#a0a0a0" stroke="none" stroke-width="0.5" />
<circle cx="125.60" cy="84.00" r="1.45" fill="#a0a0a0" stroke="none" stroke-width="0.5" />
<circle cx="72.70" cy="101.50" r="1.45" fill="#a0a0a0" stroke="none" stroke-width="0.5" />
<circle cx="78.50" cy="103.00" r="1.45" fill="#a0a0a0" stroke="none" stroke-width="0.5" />
<circle cx="84.00" cy="102.00" r="1.45" fill="#a0a0a0" stroke="none" stroke-width="0.5" />
<circle cx="85.00" cy="105.00" r="1.45" fill="#a0a0a0" stroke="none" stroke-width="0.5" />
<circle cx="86.00" cy="106.50" r="1.45" fill="#a0a0a0" stroke="none" stroke-width="0.5" />
<circle cx="95.80" cy="104.00" r="1.45" fill="#a0a0a0" stroke="none" stroke-width="0.5" />
<circle cx="106.00" cy="100.60" r="1.45" fill="#a0a0a0" stroke="none" stroke-width="0.5" />
<circle cx="88.00" cy="95.00" r="1.45" fill="#a0a0a0" stroke="none" stroke-width="0.5" />
<circle cx="92.00" cy="97.70" r="1.45" fill="#a0a0a0" stroke="none" stroke-width="0.5" />
<circle cx="73.60" cy="91.00" r="1.45" fill="#a0a0a0" stroke="none" stroke-width="0.5" />
<circle cx="68.80" cy="43.50" r="1.45" fill="#a0a0a0" stroke="none" stroke-width="0.5" />
<circle cx="78.50" cy="41.50" r="1.45" fill="#a0a0a0" stroke="none" stroke-width="0.5" />
<circle cx="80.40" cy="42.50" r="1.45" fill="#a0a0a0" stroke="none" stroke-width="0.5" />
<circle cx="90.00" cy="44.00" r="1.45" fill="#a0a0a0" stroke="none" stroke-width="0.5" />
<circle cx="94.80" cy="41.50" r="1.45" fill="#a0a0a0" stroke="none" stroke-width="0.5" />
<circle cx="96.70" cy="46.00" r="1.45" fill="#a0a0a0" stroke="none" stroke-width="0.5" />
<circle cx="106.30" cy="43.80" r="1.45" fill="#a0a0a0" stroke="none" stroke-width="0.5" />
<circle cx="82.30" cy="45.00" r="1.45" fill="#a0a0a0" stroke="none" stroke-width="0.5" />
<circle cx="61.00" cy="49.00" r="1.45" fill="#a0a0a0" stroke="none" stroke-width="0.5" />
<circle cx="60.00" cy="55.00" r="1.45" fill="#a0a0a0" stroke="none" stroke-width="0.5" />
<circle cx="97.70" cy="55.00" r="1.45" fill="#a0a0a0" stroke="none" stroke-width="0.5" />
<circle cx="73.53" cy="109.80" r="1.25" fill="#b8b8b8" stroke="none" stroke-width="0.5" />
<circle cx="81.61" cy="109.80" r="1.25" fill="#b8b8b8" stroke="none" stroke-width="0.5" />
<circle cx="73.99" cy="109.80" r="1.25" fill="#b8b8b8" stroke="none" stroke-width="0.5" />
<circle cx="67.04" cy="109.80" r="1.25" fill="#b8b8b8" stroke="none" stroke-width="0.5" />
<circle cx="78.54" cy="109.80" r="1.25" fill="#b8b8b8" stroke="none" stroke-width="0.5" />
<circle cx="72.70" cy="109.80" r="1.25" fill="#b8b8b8" stroke="none" stroke-width="0.5" />
<circle cx="85.57" cy="109.80" r="1.25" fill="#b8b8b8" stroke="none" stroke-width="0.5" />
<circle cx="76.69" cy="109.80" r="1.25" fill="#b8b8b8" stroke="none" stroke-width="0.5" />
<circle cx="93.46" cy="109.80" r="1.25" fill="#b8b8b8" stroke="none" stroke-width="0.5" />
<circle cx="91.84" cy="109.80" r="1.25" fill="#b8b8b8" stroke="none" stroke-width="0.5" />
<circle cx="84.00" cy="109.80" r="1.25" fill="#b8b8b8" stroke="none" stroke-width="0.5" />
<circle cx="66.19" cy="109.80" r="1.25" fill="#b8b8b8" stroke="none" stroke-width="0.5" />
<circle cx="61.72" cy="109.80" r="1.25" fill="#b8b8b8" stroke="none" stroke-width="0.5" />
<circle cx="89.69" cy="109.80" r="1.25" fill="#b8b8b8" stroke="none" stroke-width="0.5" />
<circle cx="85.79" cy="109.80" r="1.25" fill="#b8b8b8" stroke="none" stroke-width="0.5" />
<circle cx="80.07" cy="109.80" r="1.25" fill="#b8b8b8" stroke="none" stroke-width="0.5" />
<circle cx="70.53" cy="109.80" r="1.25" fill="#b8b8b8" stroke="none" stroke-width="0.5" />
<circle cx="67.38" cy="109.80" r="1.25" fill="#b8b8b8" stroke="none" stroke-width="0.5" />
<circle cx="82.23" cy="109.80" r="1.25" fill="#b8b8b8" stroke="none" stroke-width="0.5" />
<circle cx="77.92" cy="109.80" r="1.25" fill="#b8b8b8" stroke="none" stroke-width="0.5" />
<circle cx="78.88" cy="109.80" r="1.25" fill="#b8b8b8" stroke="none" stroke-width="0.5" />
<circle cx="80.36" cy="109.80" r="1.25" fill="#b8b8b8" stroke="none" stroke-width="0.5" />
<circle cx="84.68" cy="109.80" r="1.25" fill="#b8b8b8" stroke="none" stroke-width="0.5" />
<circle cx="64.45" cy="109.80" r="1.25" fill="#b8b8b8" stroke="none" stroke-width="0.5" />
<circle cx="66.57" cy="109.80" r="1.25" fill="#b8b8b8" stroke="none" stroke-width="0.5" />
<circle cx="92.81" cy="109.80" r="1.25" fill="#b8b8b8" stroke="none" stroke-width="0.5" />
<circle cx="90.51" cy="109.80" r="1.25" fill="#b8b8b8" stroke="none" stroke-width="0.5" />
<circle cx="89.19" cy="109.80" r="1.25" fill="#b8b8b8" stroke="none" stroke-width="0.5" />
<circle cx="59.05" cy="109.80" r="1.25" fill="#b8b8b8" stroke="none" stroke-width="0.5" />
<circle cx="59.81" cy="109.80" r="1.25" fill="#b8b8b8" stroke="none" stroke-width="0.5" />
<circle cx="67.36" cy="109.80" r="1.25" fill="#b8b8b8" stroke="none" stroke-width="0.5" />
<circle cx="72.90" cy="109.80" r="1.25" fill="#b8b8b8" stroke="none" stroke-width="0.5" />
<circle cx="80.01" cy="109.80" r="1.25" fill="#b8b8b8" stroke="none" stroke-width="0.5" />
<circle cx="61.31" cy="109.80" r="1.25" fill="#b8b8b8" stroke="none" stroke-width="0.5" />
<circle cx="77.08" cy="109.80" r="1.25" fill="#b8b8b8" stroke="none" stroke-width="0.5" />
<circle cx="60.23" cy="109.80" r="1.25" fill="#b8b8b8" stroke="none" stroke-width="0.5" />
<circle cx="60.73" cy="109.80" r="1.25" fill="#b8b8b8" stroke="none" stroke-width="0.5" />
<circle cx="81.92" cy="109.80" r="1.25" fill="#b8b8b8" stroke="none" stroke-width="0.5" />
<circle cx="77.40" cy="109.80" r="1.25" fill="#b8b8b8" stroke="none" stroke-width="0.5" />
<circle cx="80.29" cy="109.80" r="1.25" fill="#b8b8b8" stroke="none" stroke-width="0.5" />
<circle cx="71.03" cy="109.80" r="1.25" fill="#b8b8b8" stroke="none" stroke-width="0.5" />
<circle cx="74.81" cy="109.80" r="1.25" fill="#b8b8b8" stroke="none" stroke-width="0.5" />
<circle cx="65.19" cy="109.80" r="1.25" fill="#b8b8b8" stroke="none" stroke-width="0.5" />
<circle cx="69.97" cy="109.80" r="1.25" fill="#b8b8b8" stroke="none" stroke-width="0.5" />
<circle cx="84.38" cy="109.80" r="1.25" fill="#b8b8b8" stroke="none" stroke-width="0.5" />
<circle cx="46.70" cy="31.80" r="1.6" fill="#a0a0a0" stroke="none" stroke-width="0.5" />
<circle cx="48.50" cy="31.80" r="1.6" fill="#a0a0a0" stroke="none" stroke-width="0.5" />
<circle cx="72.50" cy="31.80" r="1.6" fill="#a0a0a0" stroke="none" stroke-width="0.5" />
<circle cx="74.30" cy="31.80" r="1.6" fill="#a0a0a0" stroke="none" stroke-width="0.5" />
<circle cx="49.00" cy="31.80" r="1.85" fill="#b0b0b0" stroke="#333" stroke-width="0.5" />
<circle cx="51.40" cy="31.80" r="1.85" fill="#d42020" stroke="#333" stroke-width="0.5" />
<circle cx="54.00" cy="31.80" r="1.85" fill="#e03a2a" stroke="#333" stroke-width="0.5" />
<circle cx="55.80" cy="31.80" r="1.85" fill="#d83030" stroke="#333" stroke-width="0.5" />
<circle cx="58.50" cy="31.80" r="1.85" fill="#e07028" stroke="#333" stroke-width="0.5" />
<circle cx="60.80" cy="31.80" r="1.85" fill="#e8a020" stroke="#333" stroke-width="0.5" />
<circle cx="62.80" cy="31.80" r="1.85" fill="#d8c030" stroke="#333" stroke-width="0.5" />
<circle cx="65.00" cy="31.80" r="1.85" fill="#4c9a40" stroke="#333" stroke-width="0.5" />
<circle cx="67.20" cy="31.80" r="1.85" fill="#5aa84a" stroke="#333" stroke-width="0.5" />
<circle cx="69.00" cy="31.80" r="1.85" fill="#3c8a3c" stroke="#333" stroke-width="0.5" />
<circle cx="71.00" cy="31.80" r="1.85" fill="#e08a30" stroke="#333" stroke-width="0.5" />
<circle cx="80.40" cy="31.80" r="2.3" fill="#000" stroke="none" stroke-width="0.5" />
<text x="84.30" y="34.90" font-size="8.45" fill="#000" text-anchor="start" font-weight="normal" font-style="normal" stroke="#000" stroke-width="0.17" >MIDN</text>
<text x="202.00" y="8.30" font-size="10.5" fill="#000" text-anchor="start" font-weight="bold" font-style="normal" stroke="#000" stroke-width="0.17" >B</text>
<text x="290.00" y="5.80" font-size="8.2" fill="#45994a" text-anchor="start" font-weight="normal" font-style="normal" stroke="#45994a" stroke-width="0.17" >PSMA8</text>
<text x="320.50" y="5.80" font-size="8.2" fill="#dc5c28" text-anchor="start" font-weight="normal" font-style="normal" stroke="#dc5c28" stroke-width="0.17" >PSMC2</text>
<text x="352.00" y="5.80" font-size="8.2" fill="#bcab1e" text-anchor="start" font-weight="normal" font-style="normal" stroke="#bcab1e" stroke-width="0.17" >PSMD2</text>
<text x="290.00" y="15.80" font-size="8.2" fill="#45994a" text-anchor="start" font-weight="normal" font-style="normal" stroke="#45994a" stroke-width="0.17" >PSMA5</text>
<text x="320.50" y="15.80" font-size="8.2" fill="#dc5c28" text-anchor="start" font-weight="normal" font-style="normal" stroke="#dc5c28" stroke-width="0.17" >PSMC5</text>
<text x="352.00" y="15.80" font-size="8.2" fill="#bcab1e" text-anchor="start" font-weight="normal" font-style="normal" stroke="#bcab1e" stroke-width="0.17" >PSMD11</text>
<text x="290.00" y="25.80" font-size="8.2" fill="#45994a" text-anchor="start" font-weight="normal" font-style="normal" stroke="#45994a" stroke-width="0.17" >PSMA6</text>
<text x="320.50" y="25.80" font-size="8.2" fill="#dc5c28" text-anchor="start" font-weight="normal" font-style="normal" stroke="#dc5c28" stroke-width="0.17" >PSMC4</text>
<text x="352.00" y="25.80" font-size="8.2" fill="#bcab1e" text-anchor="start" font-weight="normal" font-style="normal" stroke="#bcab1e" stroke-width="0.17" >PSMD14</text>
<text x="320.50" y="35.80" font-size="8.2" fill="#dc5c28" text-anchor="start" font-weight="normal" font-style="normal" stroke="#dc5c28" stroke-width="0.17" >PSMC1</text>
<text x="352.00" y="35.80" font-size="8.2" fill="#bcab1e" text-anchor="start" font-weight="normal" font-style="normal" stroke="#bcab1e" stroke-width="0.17" >PSMD4</text>
<text x="320.50" y="45.80" font-size="8.2" fill="#dc5c28" text-anchor="start" font-weight="normal" font-style="normal" stroke="#dc5c28" stroke-width="0.17" >PSMC6</text>
<line x1="230.80" y1="32.00" x2="230.80" y2="110.70" stroke="#555" stroke-width="0.8" />
<line x1="230.80" y1="110.20" x2="348.80" y2="110.20" stroke="#555" stroke-width="0.8" />
<line x1="228.30" y1="32.00" x2="230.80" y2="32.00" stroke="#555" stroke-width="0.8" />
<text x="227.50" y="35.00" font-size="8.2" fill="#000" text-anchor="end" font-weight="normal" font-style="normal" stroke="#000" stroke-width="0.17" >1.0</text>
<line x1="228.30" y1="71.10" x2="230.80" y2="71.10" stroke="#555" stroke-width="0.8" />
<text x="227.50" y="74.10" font-size="8.2" fill="#000" text-anchor="end" font-weight="normal" font-style="normal" stroke="#000" stroke-width="0.17" >0.5</text>
<line x1="228.30" y1="110.20" x2="230.80" y2="110.20" stroke="#555" stroke-width="0.8" />
<text x="227.50" y="113.20" font-size="8.2" fill="#000" text-anchor="end" font-weight="normal" font-style="normal" stroke="#000" stroke-width="0.17" >0.0</text>
<line x1="229.10" y1="106.29" x2="230.80" y2="106.29" stroke="#555" stroke-width="0.7" />
<line x1="229.10" y1="102.38" x2="230.80" y2="102.38" stroke="#555" stroke-width="0.7" />
<line x1="229.10" y1="98.47" x2="230.80" y2="98.47" stroke="#555" stroke-width="0.7" />
<line x1="229.10" y1="94.56" x2="230.80" y2="94.56" stroke="#555" stroke-width="0.7" />
<line x1="229.10" y1="90.65" x2="230.80" y2="90.65" stroke="#555" stroke-width="0.7" />
<line x1="229.10" y1="86.74" x2="230.80" y2="86.74" stroke="#555" stroke-width="0.7" />
<line x1="229.10" y1="82.83" x2="230.80" y2="82.83" stroke="#555" stroke-width="0.7" />
<line x1="229.10" y1="78.92" x2="230.80" y2="78.92" stroke="#555" stroke-width="0.7" />
<line x1="229.10" y1="75.01" x2="230.80" y2="75.01" stroke="#555" stroke-width="0.7" />
<line x1="229.10" y1="67.19" x2="230.80" y2="67.19" stroke="#555" stroke-width="0.7" />
<line x1="229.10" y1="63.28" x2="230.80" y2="63.28" stroke="#555" stroke-width="0.7" />
<line x1="229.10" y1="59.37" x2="230.80" y2="59.37" stroke="#555" stroke-width="0.7" />
<line x1="229.10" y1="55.46" x2="230.80" y2="55.46" stroke="#555" stroke-width="0.7" />
<line x1="229.10" y1="51.55" x2="230.80" y2="51.55" stroke="#555" stroke-width="0.7" />
<line x1="229.10" y1="47.64" x2="230.80" y2="47.64" stroke="#555" stroke-width="0.7" />
<line x1="229.10" y1="43.73" x2="230.80" y2="43.73" stroke="#555" stroke-width="0.7" />
<line x1="229.10" y1="39.82" x2="230.80" y2="39.82" stroke="#555" stroke-width="0.7" />
<line x1="229.10" y1="35.91" x2="230.80" y2="35.91" stroke="#555" stroke-width="0.7" />
<line x1="231.30" y1="110.20" x2="231.30" y2="112.70" stroke="#555" stroke-width="0.8" />
<text x="226.74" y="122.40" font-size="8.2" stroke="#000" stroke-width="0.17">10<tspan font-size="5.6" dy="-3.6">6</tspan></text>
<line x1="238.37" y1="110.20" x2="238.37" y2="111.50" stroke="#888" stroke-width="0.45" />
<line x1="242.51" y1="110.20" x2="242.51" y2="111.50" stroke="#888" stroke-width="0.45" />
<line x1="245.45" y1="110.20" x2="245.45" y2="111.50" stroke="#888" stroke-width="0.45" />
<line x1="247.73" y1="110.20" x2="247.73" y2="111.50" stroke="#888" stroke-width="0.45" />
<line x1="249.59" y1="110.20" x2="249.59" y2="111.50" stroke="#888" stroke-width="0.45" />
<line x1="251.16" y1="110.20" x2="251.16" y2="111.50" stroke="#888" stroke-width="0.45" />
<line x1="252.52" y1="110.20" x2="252.52" y2="111.50" stroke="#888" stroke-width="0.45" />
<line x1="253.72" y1="110.20" x2="253.72" y2="111.50" stroke="#888" stroke-width="0.45" />
<line x1="254.80" y1="110.20" x2="254.80" y2="112.70" stroke="#555" stroke-width="0.8" />
<text x="250.24" y="122.40" font-size="8.2" stroke="#000" stroke-width="0.17">10<tspan font-size="5.6" dy="-3.6">7</tspan></text>
<line x1="261.87" y1="110.20" x2="261.87" y2="111.50" stroke="#888" stroke-width="0.45" />
<line x1="266.01" y1="110.20" x2="266.01" y2="111.50" stroke="#888" stroke-width="0.45" />
<line x1="268.95" y1="110.20" x2="268.95" y2="111.50" stroke="#888" stroke-width="0.45" />
<line x1="271.23" y1="110.20" x2="271.23" y2="111.50" stroke="#888" stroke-width="0.45" />
<line x1="273.09" y1="110.20" x2="273.09" y2="111.50" stroke="#888" stroke-width="0.45" />
<line x1="274.66" y1="110.20" x2="274.66" y2="111.50" stroke="#888" stroke-width="0.45" />
<line x1="276.02" y1="110.20" x2="276.02" y2="111.50" stroke="#888" stroke-width="0.45" />
<line x1="277.22" y1="110.20" x2="277.22" y2="111.50" stroke="#888" stroke-width="0.45" />
<line x1="278.30" y1="110.20" x2="278.30" y2="112.70" stroke="#555" stroke-width="0.8" />
<text x="273.74" y="122.40" font-size="8.2" stroke="#000" stroke-width="0.17">10<tspan font-size="5.6" dy="-3.6">8</tspan></text>
<line x1="285.37" y1="110.20" x2="285.37" y2="111.50" stroke="#888" stroke-width="0.45" />
<line x1="289.51" y1="110.20" x2="289.51" y2="111.50" stroke="#888" stroke-width="0.45" />
<line x1="292.45" y1="110.20" x2="292.45" y2="111.50" stroke="#888" stroke-width="0.45" />
<line x1="294.73" y1="110.20" x2="294.73" y2="111.50" stroke="#888" stroke-width="0.45" />
<line x1="296.59" y1="110.20" x2="296.59" y2="111.50" stroke="#888" stroke-width="0.45" />
<line x1="298.16" y1="110.20" x2="298.16" y2="111.50" stroke="#888" stroke-width="0.45" />
<line x1="299.52" y1="110.20" x2="299.52" y2="111.50" stroke="#888" stroke-width="0.45" />
<line x1="300.72" y1="110.20" x2="300.72" y2="111.50" stroke="#888" stroke-width="0.45" />
<line x1="301.80" y1="110.20" x2="301.80" y2="112.70" stroke="#555" stroke-width="0.8" />
<text x="297.24" y="122.40" font-size="8.2" stroke="#000" stroke-width="0.17">10<tspan font-size="5.6" dy="-3.6">9</tspan></text>
<line x1="308.87" y1="110.20" x2="308.87" y2="111.50" stroke="#888" stroke-width="0.45" />
<line x1="313.01" y1="110.20" x2="313.01" y2="111.50" stroke="#888" stroke-width="0.45" />
<line x1="315.95" y1="110.20" x2="315.95" y2="111.50" stroke="#888" stroke-width="0.45" />
<line x1="318.23" y1="110.20" x2="318.23" y2="111.50" stroke="#888" stroke-width="0.45" />
<line x1="320.09" y1="110.20" x2="320.09" y2="111.50" stroke="#888" stroke-width="0.45" />
<line x1="321.66" y1="110.20" x2="321.66" y2="111.50" stroke="#888" stroke-width="0.45" />
<line x1="323.02" y1="110.20" x2="323.02" y2="111.50" stroke="#888" stroke-width="0.45" />
<line x1="324.22" y1="110.20" x2="324.22" y2="111.50" stroke="#888" stroke-width="0.45" />
<line x1="325.30" y1="110.20" x2="325.30" y2="112.70" stroke="#555" stroke-width="0.8" />
<text x="320.74" y="122.40" font-size="8.2" stroke="#000" stroke-width="0.17">10<tspan font-size="5.6" dy="-3.6">10</tspan></text>
<line x1="332.37" y1="110.20" x2="332.37" y2="111.50" stroke="#888" stroke-width="0.45" />
<line x1="336.51" y1="110.20" x2="336.51" y2="111.50" stroke="#888" stroke-width="0.45" />
<line x1="339.45" y1="110.20" x2="339.45" y2="111.50" stroke="#888" stroke-width="0.45" />
<line x1="341.73" y1="110.20" x2="341.73" y2="111.50" stroke="#888" stroke-width="0.45" />
<line x1="343.59" y1="110.20" x2="343.59" y2="111.50" stroke="#888" stroke-width="0.45" />
<line x1="345.16" y1="110.20" x2="345.16" y2="111.50" stroke="#888" stroke-width="0.45" />
<line x1="346.52" y1="110.20" x2="346.52" y2="111.50" stroke="#888" stroke-width="0.45" />
<line x1="347.72" y1="110.20" x2="347.72" y2="111.50" stroke="#888" stroke-width="0.45" />
<line x1="348.80" y1="110.20" x2="348.80" y2="112.70" stroke="#555" stroke-width="0.8" />
<text x="344.24" y="122.40" font-size="8.2" stroke="#000" stroke-width="0.17">10<tspan font-size="5.6" dy="-3.6">11</tspan></text>
<text x="305.00" y="130.00" font-size="8.28" fill="#000" text-anchor="middle" font-weight="normal" font-style="normal" stroke="#000" stroke-width="0.17" >Relative Protein Abundance (Precursor Ion Intensity)</text>
<text transform="translate(208.00,71.00) rotate(-90)" font-size="8.3" text-anchor="middle" fill="#000" stroke="#000" stroke-width="0.17">Fraction (MIDN/total)</text>
<text x="339.00" y="103.00" font-size="8.2" fill="#000" text-anchor="start" font-weight="normal" font-style="normal" stroke="#000" stroke-width="0.17" >Spleen</text>
<circle cx="242.10" cy="41.60" r="1.45" fill="#a0a0a0" stroke="none" stroke-width="0.5" />
<circle cx="282.00" cy="43.20" r="1.45" fill="#a0a0a0" stroke="none" stroke-width="0.5" />
<circle cx="244.00" cy="48.60" r="1.45" fill="#a0a0a0" stroke="none" stroke-width="0.5" />
<circle cx="249.10" cy="53.80" r="1.45" fill="#a0a0a0" stroke="none" stroke-width="0.5" />
<circle cx="256.20" cy="54.20" r="1.45" fill="#a0a0a0" stroke="none" stroke-width="0.5" />
<circle cx="249.60" cy="57.30" r="1.45" fill="#a0a0a0" stroke="none" stroke-width="0.5" />
<circle cx="246.80" cy="58.50" r="1.45" fill="#a0a0a0" stroke="none" stroke-width="0.5" />
<circle cx="253.40" cy="58.50" r="1.45" fill="#a0a0a0" stroke="none" stroke-width="0.5" />
<circle cx="259.70" cy="58.50" r="1.45" fill="#a0a0a0" stroke="none" stroke-width="0.5" />
<circle cx="285.50" cy="56.10" r="1.45" fill="#a0a0a0" stroke="none" stroke-width="0.5" />
<circle cx="289.50" cy="58.50" r="1.45" fill="#a0a0a0" stroke="none" stroke-width="0.5" />
<circle cx="294.90" cy="58.50" r="1.45" fill="#a0a0a0" stroke="none" stroke-width="0.5" />
<circle cx="298.00" cy="57.30" r="1.45" fill="#a0a0a0" stroke="none" stroke-width="0.5" />
<circle cx="267.90" cy="59.60" r="1.45" fill="#a0a0a0" stroke="none" stroke-width="0.5" />
<circle cx="273.80" cy="63.20" r="1.45" fill="#a0a0a0" stroke="none" stroke-width="0.5" />
<circle cx="277.30" cy="62.00" r="1.45" fill="#a0a0a0" stroke="none" stroke-width="0.5" />
<circle cx="283.60" cy="63.20" r="1.45" fill="#a0a0a0" stroke="none" stroke-width="0.5" />
<circle cx="263.20" cy="62.70" r="1.45" fill="#a0a0a0" stroke="none" stroke-width="0.5" />
<circle cx="242.00" cy="63.20" r="1.45" fill="#a0a0a0" stroke="none" stroke-width="0.5" />
<circle cx="234.60" cy="65.50" r="1.45" fill="#a0a0a0" stroke="none" stroke-width="0.5" />
<circle cx="247.20" cy="60.40" r="1.45" fill="#a0a0a0" stroke="none" stroke-width="0.5" />
<circle cx="251.50" cy="65.50" r="1.45" fill="#a0a0a0" stroke="none" stroke-width="0.5" />
<circle cx="257.30" cy="65.50" r="1.45" fill="#a0a0a0" stroke="none" stroke-width="0.5" />
<circle cx="260.90" cy="67.90" r="1.45" fill="#a0a0a0" stroke="none" stroke-width="0.5" />
<circle cx="264.40" cy="66.70" r="1.45" fill="#a0a0a0" stroke="none" stroke-width="0.5" />
<circle cx="269.00" cy="66.70" r="1.45" fill="#a0a0a0" stroke="none" stroke-width="0.5" />
<circle cx="272.10" cy="65.00" r="1.45" fill="#a0a0a0" stroke="none" stroke-width="0.5" />
<circle cx="289.50" cy="64.30" r="1.45" fill="#a0a0a0" stroke="none" stroke-width="0.5" />
<circle cx="296.00" cy="67.90" r="1.45" fill="#a0a0a0" stroke="none" stroke-width="0.5" />
<circle cx="313.70" cy="64.30" r="1.45" fill="#a0a0a0" stroke="none" stroke-width="0.5" />
<circle cx="317.20" cy="69.00" r="1.45" fill="#a0a0a0" stroke="none" stroke-width="0.5" />
<circle cx="333.60" cy="67.90" r="1.45" fill="#a0a0a0" stroke="none" stroke-width="0.5" />
<circle cx="240.20" cy="72.60" r="1.45" fill="#a0a0a0" stroke="none" stroke-width="0.5" />
<circle cx="244.40" cy="70.20" r="1.45" fill="#a0a0a0" stroke="none" stroke-width="0.5" />
<circle cx="246.30" cy="67.90" r="1.45" fill="#a0a0a0" stroke="none" stroke-width="0.5" />
<circle cx="253.80" cy="73.70" r="1.45" fill="#a0a0a0" stroke="none" stroke-width="0.5" />
<circle cx="258.50" cy="70.20" r="1.45" fill="#a0a0a0" stroke="none" stroke-width="0.5" />
<circle cx="265.60" cy="72.60" r="1.45" fill="#a0a0a0" stroke="none" stroke-width="0.5" />
<circle cx="270.30" cy="76.10" r="1.45" fill="#a0a0a0" stroke="none" stroke-width="0.5" />
<circle cx="277.30" cy="73.70" r="1.45" fill="#a0a0a0" stroke="none" stroke-width="0.5" />
<circle cx="282.00" cy="70.20" r="1.45" fill="#a0a0a0" stroke="none" stroke-width="0.5" />
<circle cx="286.70" cy="72.60" r="1.45" fill="#a0a0a0" stroke="none" stroke-width="0.5" />
<circle cx="291.40" cy="70.20" r="1.45" fill="#a0a0a0" stroke="none" stroke-width="0.5" />
<circle cx="298.40" cy="72.60" r="1.45" fill="#a0a0a0" stroke="none" stroke-width="0.5" />
<circle cx="303.10" cy="70.20" r="1.45" fill="#a0a0a0" stroke="none" stroke-width="0.5" />
<circle cx="300.80" cy="76.80" r="1.45" fill="#a0a0a0" stroke="none" stroke-width="0.5" />
<circle cx="309.00" cy="76.80" r="1.45" fill="#a0a0a0" stroke="none" stroke-width="0.5" />
<circle cx="311.30" cy="76.10" r="1.45" fill="#a0a0a0" stroke="none" stroke-width="0.5" />
<circle cx="323.10" cy="74.40" r="1.45" fill="#a0a0a0" stroke="none" stroke-width="0.5" />
<circle cx="337.20" cy="76.10" r="1.45" fill="#a0a0a0" stroke="none" stroke-width="0.5" />
<circle cx="346.50" cy="72.60" r="1.45" fill="#a0a0a0" stroke="none" stroke-width="0.5" />
<circle cx="236.20" cy="79.60" r="1.45" fill="#a0a0a0" stroke="none" stroke-width="0.5" />
<circle cx="246.80" cy="74.90" r="1.45" fill="#a0a0a0" stroke="none" stroke-width="0.5" />
<circle cx="249.10" cy="79.10" r="1.45" fill="#a0a0a0" stroke="none" stroke-width="0.5" />
<circle cx="252.00" cy="80.80" r="1.45" fill="#a0a0a0" stroke="none" stroke-width="0.5" />
<circle cx="258.00" cy="79.60" r="1.45" fill="#a0a0a0" stroke="none" stroke-width="0.5" />
<circle cx="263.20" cy="78.40" r="1.45" fill="#a0a0a0" stroke="none" stroke-width="0.5" />
<circle cx="266.70" cy="74.90" r="1.45" fill="#a0a0a0" stroke="none" stroke-width="0.5" />
<circle cx="273.80" cy="79.60" r="1.45" fill="#a0a0a0" stroke="none" stroke-width="0.5" />
<circle cx="278.50" cy="78.40" r="1.45" fill="#a0a0a0" stroke="none" stroke-width="0.5" />
<circle cx="284.30" cy="77.30" r="1.45" fill="#a0a0a0" stroke="none" stroke-width="0.5" />
<circle cx="290.90" cy="77.30" r="1.45" fill="#a0a0a0" stroke="none" stroke-width="0.5" />
<circle cx="296.00" cy="76.10" r="1.45" fill="#a0a0a0" stroke="none" stroke-width="0.5" />
<circle cx="242.00" cy="84.30" r="1.45" fill="#a0a0a0" stroke="none" stroke-width="0.5" />
<circle cx="246.80" cy="83.10" r="1.45" fill="#a0a0a0" stroke="none" stroke-width="0.5" />
<circle cx="251.50" cy="86.20" r="1.45" fill="#a0a0a0" stroke="none" stroke-width="0.5" />
<circle cx="255.70" cy="84.30" r="1.45" fill="#a0a0a0" stroke="none" stroke-width="0.5" />
<circle cx="263.20" cy="84.30" r="1.45" fill="#a0a0a0" stroke="none" stroke-width="0.5" />
<circle cx="269.00" cy="81.50" r="1.45" fill="#a0a0a0" stroke="none" stroke-width="0.5" />
<circle cx="276.10" cy="84.30" r="1.45" fill="#a0a0a0" stroke="none" stroke-width="0.5" />
<circle cx="291.40" cy="83.60" r="1.45" fill="#a0a0a0" stroke="none" stroke-width="0.5" />
<circle cx="309.00" cy="83.80" r="1.45" fill="#a0a0a0" stroke="none" stroke-width="0.5" />
<circle cx="250.30" cy="90.90" r="1.45" fill="#a0a0a0" stroke="none" stroke-width="0.5" />
<circle cx="255.00" cy="93.70" r="1.45" fill="#a0a0a0" stroke="none" stroke-width="0.5" />
<circle cx="259.70" cy="88.50" r="1.45" fill="#a0a0a0" stroke="none" stroke-width="0.5" />
<circle cx="278.50" cy="90.90" r="1.45" fill="#a0a0a0" stroke="none" stroke-width="0.5" />
<circle cx="284.30" cy="91.30" r="1.45" fill="#a0a0a0" stroke="none" stroke-width="0.5" />
<circle cx="264.40" cy="95.60" r="1.45" fill="#a0a0a0" stroke="none" stroke-width="0.5" />
<circle cx="270.30" cy="97.90" r="1.45" fill="#a0a0a0" stroke="none" stroke-width="0.5" />
<circle cx="264.40" cy="102.60" r="1.45" fill="#a0a0a0" stroke="none" stroke-width="0.5" />
<circle cx="276.10" cy="93.70" r="1.45" fill="#a0a0a0" stroke="none" stroke-width="0.5" />
<circle cx="267.87" cy="69.16" r="1.45" fill="#a0a0a0" stroke="none" stroke-width="0.5" />
<circle cx="277.96" cy="77.84" r="1.45" fill="#a0a0a0" stroke="none" stroke-width="0.5" />
<circle cx="255.02" cy="64.40" r="1.45" fill="#a0a0a0" stroke="none" stroke-width="0.5" />
<circle cx="268.17" cy="76.63" r="1.45" fill="#a0a0a0" stroke="none" stroke-width="0.5" />
<circle cx="265.17" cy="81.01" r="1.45" fill="#a0a0a0" stroke="none" stroke-width="0.5" />
<circle cx="257.09" cy="76.87" r="1.45" fill="#a0a0a0" stroke="none" stroke-width="0.5" />
<circle cx="273.97" cy="70.67" r="1.45" fill="#a0a0a0" stroke="none" stroke-width="0.5" />
<circle cx="251.79" cy="68.26" r="1.45" fill="#a0a0a0" stroke="none" stroke-width="0.5" />
<circle cx="274.36" cy="68.23" r="1.45" fill="#a0a0a0" stroke="none" stroke-width="0.5" />
<circle cx="263.23" cy="72.82" r="1.45" fill="#a0a0a0" stroke="none" stroke-width="0.5" />
<circle cx="268.58" cy="69.43" r="1.45" fill="#a0a0a0" stroke="none" stroke-width="0.5" />
<circle cx="276.06" cy="74.53" r="1.45" fill="#a0a0a0" stroke="none" stroke-width="0.5" />
<circle cx="252.38" cy="71.79" r="1.45" fill="#a0a0a0" stroke="none" stroke-width="0.5" />
<circle cx="261.30" cy="80.06" r="1.45" fill="#a0a0a0" stroke="none" stroke-width="0.5" />
<circle cx="271.53" cy="72.75" r="1.45" fill="#a0a0a0" stroke="none" stroke-width="0.5" />
<circle cx="264.05" cy="69.07" r="1.45" fill="#a0a0a0" stroke="none" stroke-width="0.5" />
<circle cx="261.20" cy="79.34" r="1.45" fill="#a0a0a0" stroke="none" stroke-width="0.5" />
<circle cx="263.47" cy="66.79" r="1.45" fill="#a0a0a0" stroke="none" stroke-width="0.5" />
<circle cx="271.28" cy="75.05" r="1.45" fill="#a0a0a0" stroke="none" stroke-width="0.5" />
<circle cx="264.71" cy="65.81" r="1.45" fill="#a0a0a0" stroke="none" stroke-width="0.5" />
<circle cx="276.47" cy="76.81" r="1.45" fill="#a0a0a0" stroke="none" stroke-width="0.5" />
<circle cx="247.72" cy="65.81" r="1.45" fill="#a0a0a0" stroke="none" stroke-width="0.5" />
<circle cx="284.51" cy="66.52" r="1.45" fill="#a0a0a0" stroke="none" stroke-width="0.5" />
<circle cx="250.99" cy="74.77" r="1.45" fill="#a0a0a0" stroke="none" stroke-width="0.5" />
<circle cx="263.35" cy="75.53" r="1.45" fill="#a0a0a0" stroke="none" stroke-width="0.5" />
<circle cx="249.02" cy="78.58" r="1.45" fill="#a0a0a0" stroke="none" stroke-width="0.5" />
<circle cx="271.37" cy="68.45" r="1.45" fill="#a0a0a0" stroke="none" stroke-width="0.5" />
<circle cx="260.46" cy="75.01" r="1.45" fill="#a0a0a0" stroke="none" stroke-width="0.5" />
<circle cx="260.10" cy="75.18" r="1.45" fill="#a0a0a0" stroke="none" stroke-width="0.5" />
<circle cx="261.49" cy="73.35" r="1.45" fill="#a0a0a0" stroke="none" stroke-width="0.5" />
<circle cx="251.20" cy="67.17" r="1.45" fill="#a0a0a0" stroke="none" stroke-width="0.5" />
<circle cx="249.43" cy="68.36" r="1.45" fill="#a0a0a0" stroke="none" stroke-width="0.5" />
<circle cx="260.82" cy="69.68" r="1.45" fill="#a0a0a0" stroke="none" stroke-width="0.5" />
<circle cx="267.04" cy="59.67" r="1.45" fill="#a0a0a0" stroke="none" stroke-width="0.5" />
<circle cx="265.63" cy="72.14" r="1.45" fill="#a0a0a0" stroke="none" stroke-width="0.5" />
<circle cx="254.77" cy="70.32" r="1.45" fill="#a0a0a0" stroke="none" stroke-width="0.5" />
<circle cx="244.63" cy="65.11" r="1.45" fill="#a0a0a0" stroke="none" stroke-width="0.5" />
<circle cx="256.54" cy="62.92" r="1.45" fill="#a0a0a0" stroke="none" stroke-width="0.5" />
<circle cx="276.42" cy="73.71" r="1.45" fill="#a0a0a0" stroke="none" stroke-width="0.5" />
<circle cx="266.89" cy="68.76" r="1.45" fill="#a0a0a0" stroke="none" stroke-width="0.5" />
<circle cx="278.82" cy="75.41" r="1.45" fill="#a0a0a0" stroke="none" stroke-width="0.5" />
<circle cx="269.05" cy="69.63" r="1.45" fill="#a0a0a0" stroke="none" stroke-width="0.5" />
<circle cx="262.66" cy="68.71" r="1.45" fill="#a0a0a0" stroke="none" stroke-width="0.5" />
<circle cx="265.66" cy="63.04" r="1.45" fill="#a0a0a0" stroke="none" stroke-width="0.5" />
<circle cx="266.18" cy="74.88" r="1.45" fill="#a0a0a0" stroke="none" stroke-width="0.5" />
<circle cx="251.90" cy="109.80" r="1.25" fill="#b8b8b8" stroke="none" stroke-width="0.5" />
<circle cx="245.56" cy="109.80" r="1.25" fill="#b8b8b8" stroke="none" stroke-width="0.5" />
<circle cx="251.88" cy="109.80" r="1.25" fill="#b8b8b8" stroke="none" stroke-width="0.5" />
<circle cx="242.25" cy="109.80" r="1.25" fill="#b8b8b8" stroke="none" stroke-width="0.5" />
<circle cx="240.78" cy="109.80" r="1.25" fill="#b8b8b8" stroke="none" stroke-width="0.5" />
<circle cx="257.18" cy="109.80" r="1.25" fill="#b8b8b8" stroke="none" stroke-width="0.5" />
<circle cx="249.48" cy="109.80" r="1.25" fill="#b8b8b8" stroke="none" stroke-width="0.5" />
<circle cx="244.84" cy="109.80" r="1.25" fill="#b8b8b8" stroke="none" stroke-width="0.5" />
<circle cx="245.97" cy="109.80" r="1.25" fill="#b8b8b8" stroke="none" stroke-width="0.5" />
<circle cx="250.74" cy="109.80" r="1.25" fill="#b8b8b8" stroke="none" stroke-width="0.5" />
<circle cx="250.41" cy="109.80" r="1.25" fill="#b8b8b8" stroke="none" stroke-width="0.5" />
<circle cx="255.79" cy="109.80" r="1.25" fill="#b8b8b8" stroke="none" stroke-width="0.5" />
<circle cx="242.68" cy="109.80" r="1.25" fill="#b8b8b8" stroke="none" stroke-width="0.5" />
<circle cx="253.48" cy="109.80" r="1.25" fill="#b8b8b8" stroke="none" stroke-width="0.5" />
<circle cx="249.34" cy="109.80" r="1.25" fill="#b8b8b8" stroke="none" stroke-width="0.5" />
<circle cx="254.19" cy="109.80" r="1.25" fill="#b8b8b8" stroke="none" stroke-width="0.5" />
<circle cx="252.95" cy="109.80" r="1.25" fill="#b8b8b8" stroke="none" stroke-width="0.5" />
<circle cx="253.68" cy="109.80" r="1.25" fill="#b8b8b8" stroke="none" stroke-width="0.5" />
<circle cx="255.10" cy="109.80" r="1.25" fill="#b8b8b8" stroke="none" stroke-width="0.5" />
<circle cx="256.90" cy="109.80" r="1.25" fill="#b8b8b8" stroke="none" stroke-width="0.5" />
<circle cx="248.65" cy="109.80" r="1.25" fill="#b8b8b8" stroke="none" stroke-width="0.5" />
<circle cx="245.62" cy="109.80" r="1.25" fill="#b8b8b8" stroke="none" stroke-width="0.5" />
<circle cx="234.00" cy="32.00" r="1.9" fill="#4a9a4a" stroke="#444" stroke-width="0.45" />
<circle cx="240.50" cy="32.00" r="1.9" fill="#e8dc50" stroke="#444" stroke-width="0.45" />
<circle cx="244.30" cy="32.00" r="1.9" fill="#3a7a3a" stroke="#444" stroke-width="0.45" />
<circle cx="248.00" cy="32.00" r="1.9" fill="#e8dc50" stroke="#444" stroke-width="0.45" />
<circle cx="251.50" cy="32.00" r="1.9" fill="#e88a30" stroke="#444" stroke-width="0.45" />
<circle cx="263.30" cy="32.00" r="2.3" fill="#000" stroke="none" stroke-width="0.5" />
<text x="267.00" y="35.10" font-size="8.45" fill="#000" text-anchor="start" font-weight="normal" font-style="normal" stroke="#000" stroke-width="0.17" >MIDN</text>
<text x="397.50" y="8.30" font-size="10.5" fill="#000" text-anchor="start" font-weight="bold" font-style="normal" stroke="#000" stroke-width="0.17" >C</text>
<defs><clipPath id="cg"><circle cx="436.4" cy="61.4" r="30.6"/></clipPath></defs>
<circle cx="436.40" cy="61.40" r="30.6" fill="#badca2" stroke="none" stroke-width="0.5" />
<circle cx="468.70" cy="42.50" r="18.8" fill="#df8a8e" stroke="none" stroke-width="0.5" />
<circle cx="468.70" cy="42.50" r="18.8" fill="#ad9f60" stroke="none" stroke-width="0.5" clip-path="url(#cg)"/>
<text x="436.50" y="60.60" font-size="8.2" fill="#000" text-anchor="middle" font-weight="normal" font-style="normal" stroke="#000" stroke-width="0.17" >60</text>
<text x="437.50" y="70.20" font-size="8.2" fill="#000" text-anchor="middle" font-weight="normal" font-style="normal" stroke="#000" stroke-width="0.17" >IP: B cells</text>
<text x="473.00" y="35.80" font-size="8.2" fill="#000" text-anchor="middle" font-weight="normal" font-style="normal" stroke="#000" stroke-width="0.17" >19</text>
<text x="476.80" y="42.80" font-size="8.2" fill="#000" text-anchor="middle" font-weight="normal" font-style="normal" stroke="#000" stroke-width="0.17" >IP: spleen</text>
<text x="458.30" y="52.30" font-size="8.2" fill="#000" text-anchor="middle" font-weight="normal" font-style="normal" stroke="#000" stroke-width="0.17" >6</text>
<polyline points="458.30,54.50 458.30,100.00 468.30,100.00" fill="none" stroke="#444" stroke-width="0.7" stroke-linejoin="round" />
<polyline points="471.00,76.30 468.30,76.30 468.30,126.00 471.00,126.00" fill="none" stroke="#444" stroke-width="0.7" stroke-linejoin="round" />
<text x="473.60" y="79.30" font-size="8.2" fill="#000" text-anchor="start" font-weight="normal" font-style="normal" stroke="#000" stroke-width="0.17" >MIDN</text>
<text x="473.60" y="89.25" font-size="8.2" fill="#000" text-anchor="start" font-weight="normal" font-style="normal" stroke="#000" stroke-width="0.17" >PSMC2</text>
<text x="473.60" y="99.20" font-size="8.2" fill="#000" text-anchor="start" font-weight="normal" font-style="normal" stroke="#000" stroke-width="0.17" >PSMC4</text>
<text x="473.60" y="109.15" font-size="8.2" fill="#000" text-anchor="start" font-weight="normal" font-style="normal" stroke="#000" stroke-width="0.17" >PSMC5</text>
<text x="473.60" y="119.10" font-size="8.2" fill="#000" text-anchor="start" font-weight="normal" font-style="normal" stroke="#000" stroke-width="0.17" >PSMA5</text>
<text x="473.60" y="129.05" font-size="8.2" fill="#000" text-anchor="start" font-weight="normal" font-style="normal" stroke="#000" stroke-width="0.17" >PSMD11</text>
<text x="1.00" y="150.60" font-size="10.5" fill="#000" text-anchor="start" font-weight="bold" font-style="normal" stroke="#000" stroke-width="0.17" >D</text>
<text x="50.80" y="161.00" font-size="8.2" fill="#000" text-anchor="end" font-weight="normal" font-style="normal" stroke="#000" stroke-width="0.17" >FLAG-</text>
<text x="50.00" y="171.00" font-size="8.2" fill="#000" text-anchor="end" font-weight="normal" font-style="normal" stroke="#000" stroke-width="0.17" >HA-MIDN-WT</text>
<text transform="translate(58.00,162.00) rotate(-45)" font-size="8.2" text-anchor="start" fill="#000" stroke="#000" stroke-width="0.17">Empty</text>
<text x="58.00" y="171.60" font-size="8.2" fill="#000" text-anchor="middle" font-weight="normal" font-style="normal" stroke="#000" stroke-width="0.17" >+</text>
<text transform="translate(72.50,162.00) rotate(-45)" font-size="8.2" text-anchor="start" fill="#000" stroke="#000" stroke-width="0.17">PSMC2</text>
<text x="72.50" y="171.60" font-size="8.2" fill="#000" text-anchor="middle" font-weight="normal" font-style="normal" stroke="#000" stroke-width="0.17" >+</text>
<text transform="translate(88.80,162.00) rotate(-45)" font-size="8.2" text-anchor="start" fill="#000" stroke="#000" stroke-width="0.17">PSMC4</text>
<text x="88.80" y="171.60" font-size="8.2" fill="#000" text-anchor="middle" font-weight="normal" font-style="normal" stroke="#000" stroke-width="0.17" >+</text>
<text transform="translate(105.20,162.00) rotate(-45)" font-size="8.2" text-anchor="start" fill="#000" stroke="#000" stroke-width="0.17">PSMC5</text>
<text x="105.20" y="171.60" font-size="8.2" fill="#000" text-anchor="middle" font-weight="normal" font-style="normal" stroke="#000" stroke-width="0.17" >+</text>
<text transform="translate(122.00,162.00) rotate(-45)" font-size="8.2" text-anchor="start" fill="#000" stroke="#000" stroke-width="0.17">PSMD11</text>
<text x="122.00" y="171.60" font-size="8.2" fill="#000" text-anchor="middle" font-weight="normal" font-style="normal" stroke="#000" stroke-width="0.17" >+</text>
<rect x="46.50" y="173.50" width="87.30" height="40.00" fill="#fafafa" stroke="#555" stroke-width="0.8" />
<rect x="46.50" y="216.20" width="87.30" height="138.40" fill="#fafafa" stroke="#555" stroke-width="0.8" />
<rect x="46.50" y="360.40" width="87.00" height="32.00" fill="#fafafa" stroke="#555" stroke-width="0.8" />
<text x="43.00" y="195.50" font-size="8.2" fill="#000" text-anchor="end" font-weight="normal" font-style="normal" stroke="#000" stroke-width="0.17" >(kDa)</text>
<text x="41.80" y="227.50" font-size="8.2" fill="#000" text-anchor="end" font-weight="normal" font-style="normal" stroke="#000" stroke-width="0.17" >100</text>
<line x1="42.80" y1="224.50" x2="46.50" y2="224.50" stroke="#333" stroke-width="0.7" />
<text x="41.80" y="240.00" font-size="8.2" fill="#000" text-anchor="end" font-weight="normal" font-style="normal" stroke="#000" stroke-width="0.17" >75</text>
<line x1="42.80" y1="237.00" x2="46.50" y2="237.00" stroke="#333" stroke-width="0.7" />
<text x="41.80" y="273.00" font-size="8.2" fill="#000" text-anchor="end" font-weight="normal" font-style="normal" stroke="#000" stroke-width="0.17" >50</text>
<line x1="42.80" y1="270.00" x2="46.50" y2="270.00" stroke="#333" stroke-width="0.7" />
<text x="41.80" y="294.50" font-size="8.2" fill="#000" text-anchor="end" font-weight="normal" font-style="normal" stroke="#000" stroke-width="0.17" >37</text>
<line x1="42.80" y1="291.50" x2="46.50" y2="291.50" stroke="#333" stroke-width="0.7" />
<text x="41.80" y="318.50" font-size="8.2" fill="#000" text-anchor="end" font-weight="normal" font-style="normal" stroke="#000" stroke-width="0.17" >25</text>
<line x1="42.80" y1="315.50" x2="46.50" y2="315.50" stroke="#333" stroke-width="0.7" />
<text x="136.50" y="193.80" font-size="8.2" fill="#4c5db0" text-anchor="start" font-weight="normal" font-style="normal" stroke="#4c5db0" stroke-width="0.17" >IP: FLAG</text>
<text x="136.50" y="204.00" font-size="8.2" fill="#4c5db0" text-anchor="start" font-weight="normal" font-style="normal" stroke="#4c5db0" stroke-width="0.17" >IB: HA</text>
<text x="136.50" y="293.20" font-size="8.2" fill="#4c5db0" text-anchor="start" font-weight="normal" font-style="normal" stroke="#4c5db0" stroke-width="0.17" >IP: FLAG</text>
<text x="136.50" y="303.40" font-size="8.2" fill="#4c5db0" text-anchor="start" font-weight="normal" font-style="normal" stroke="#4c5db0" stroke-width="0.17" >IB: FLAG</text>
<text x="136.50" y="375.00" font-size="8.2" fill="#4c5db0" text-anchor="start" font-weight="normal" font-style="normal" stroke="#4c5db0" stroke-width="0.17" >Input</text>
<text x="136.50" y="385.30" font-size="8.2" fill="#4c5db0" text-anchor="start" font-weight="normal" font-style="normal" stroke="#4c5db0" stroke-width="0.17" >IB: HA</text>
<rect x="52.00" y="217" width="12" height="137" fill="#000" fill-opacity="0.025" filter="url(#bl)"/>
<rect x="66.50" y="217" width="12" height="137" fill="#000" fill-opacity="0.025" filter="url(#bl)"/>
<rect x="82.80" y="217" width="12" height="137" fill="#000" fill-opacity="0.025" filter="url(#bl)"/>
<rect x="99.20" y="217" width="12" height="137" fill="#000" fill-opacity="0.025" filter="url(#bl)"/>
<rect x="116.00" y="217" width="12" height="137" fill="#000" fill-opacity="0.025" filter="url(#bl)"/>
<rect x="66.00" y="190.40" width="10.00" height="4.60" rx="1.77" fill="#000" fill-opacity="0.95" filter="url(#bl)"/>
<rect x="82.75" y="190.30" width="10.50" height="5.00" rx="1.92" fill="#000" fill-opacity="1.0" filter="url(#bl)"/>
<rect x="100.25" y="191.10" width="9.50" height="3.40" rx="1.31" fill="#000" fill-opacity="0.32" filter="url(#bl)"/>
<rect x="117.25" y="191.20" width="9.50" height="3.20" rx="1.23" fill="#000" fill-opacity="0.3" filter="url(#bl)"/>
<rect x="54.00" y="191.25" width="8.00" height="2.50" rx="0.96" fill="#000" fill-opacity="0.05" filter="url(#bl)"/>
<rect x="67.50" y="268.10" width="10.00" height="3.00" rx="1.15" fill="#000" fill-opacity="0.92" filter="url(#bl)"/>
<rect x="68.50" y="273.80" width="8.00" height="1.40" rx="0.54" fill="#000" fill-opacity="0.12" filter="url(#bl)"/>
<rect x="68.50" y="280.30" width="8.00" height="1.40" rx="0.54" fill="#000" fill-opacity="0.08" filter="url(#bl)"/>
<rect x="67.75" y="297.00" width="9.50" height="2.60" rx="1.00" fill="#000" fill-opacity="0.72" filter="url(#bl)"/>
<rect x="67.50" y="303.30" width="10.00" height="3.00" rx="1.15" fill="#000" fill-opacity="0.95" filter="url(#bl)"/>
<rect x="68.00" y="326.90" width="9.00" height="1.80" rx="0.69" fill="#000" fill-opacity="0.3" filter="url(#bl)"/>
<rect x="68.50" y="347.30" width="8.00" height="1.40" rx="0.54" fill="#000" fill-opacity="0.1" filter="url(#bl)"/>
<rect x="82.55" y="267.10" width="12.50" height="5.00" rx="1.92" fill="#000" fill-opacity="1.0" filter="url(#bl)"/>
<rect x="83.80" y="275.10" width="10.00" height="2.20" rx="0.85" fill="#000" fill-opacity="0.45" filter="url(#bl)"/>
<rect x="84.30" y="285.40" width="9.00" height="1.60" rx="0.62" fill="#000" fill-opacity="0.25" filter="url(#bl)"/>
<rect x="84.30" y="287.60" width="9.00" height="1.60" rx="0.62" fill="#000" fill-opacity="0.25" filter="url(#bl)"/>
<rect x="84.05" y="303.00" width="9.50" height="2.00" rx="0.77" fill="#000" fill-opacity="0.45" filter="url(#bl)"/>
<rect x="83.80" y="308.80" width="10.00" height="2.40" rx="0.92" fill="#000" fill-opacity="0.55" filter="url(#bl)"/>
<rect x="83.55" y="316.60" width="10.50" height="2.80" rx="1.08" fill="#000" fill-opacity="0.78" filter="url(#bl)"/>
<rect x="83.80" y="348.25" width="10.00" height="3.50" rx="1.35" fill="#000" fill-opacity="0.15" filter="url(#bl)"/>
<rect x="85.80" y="258.30" width="6.00" height="1.40" rx="0.54" fill="#000" fill-opacity="0.08" filter="url(#bl)"/>
<rect x="98.45" y="282.50" width="12.50" height="5.60" rx="2.15" fill="#000" fill-opacity="1.0" filter="url(#bl)"/>
<rect x="99.20" y="302.10" width="11.00" height="3.00" rx="1.15" fill="#000" fill-opacity="0.9" filter="url(#bl)"/>
<rect x="100.70" y="319.30" width="9.00" height="1.40" rx="0.54" fill="#000" fill-opacity="0.12" filter="url(#bl)"/>
<g transform="rotate(-3 122 272)">
<rect x="114.60" y="269.80" width="14.00" height="4.40" rx="1.69" fill="#000" fill-opacity="1.0" filter="url(#bl)"/>
</g>
<rect x="116.85" y="290.00" width="9.50" height="2.00" rx="0.77" fill="#000" fill-opacity="0.5" filter="url(#bl)"/>
<rect x="116.85" y="309.00" width="9.50" height="2.00" rx="0.77" fill="#000" fill-opacity="0.45" filter="url(#bl)"/>
<rect x="118.00" y="321.40" width="8.00" height="1.20" rx="0.46" fill="#000" fill-opacity="0.08" filter="url(#bl)"/>
<rect x="53.00" y="238.10" width="8.00" height="1.40" rx="0.54" fill="#000" fill-opacity="0.09" filter="url(#bl)"/>
<rect x="67.50" y="238.10" width="8.00" height="1.40" rx="0.54" fill="#000" fill-opacity="0.09" filter="url(#bl)"/>
<rect x="83.80" y="238.10" width="8.00" height="1.40" rx="0.54" fill="#000" fill-opacity="0.09" filter="url(#bl)"/>
<rect x="100.20" y="238.10" width="8.00" height="1.40" rx="0.54" fill="#000" fill-opacity="0.09" filter="url(#bl)"/>
<rect x="117.00" y="238.10" width="8.00" height="1.40" rx="0.54" fill="#000" fill-opacity="0.09" filter="url(#bl)"/>
<rect x="54.00" y="327.30" width="8.00" height="1.40" rx="0.54" fill="#000" fill-opacity="0.08" filter="url(#bl)"/>
<rect x="55.00" y="262.50" width="6.00" height="1.00" rx="0.38" fill="#000" fill-opacity="0.05" filter="url(#bl)"/>
<rect x="50.20" y="362" width="12" height="28" fill="#000" fill-opacity="0.03" filter="url(#bl)"/>
<rect x="50.20" y="372.60" width="12.00" height="5.80" rx="2.23" fill="#000" fill-opacity="1.0" filter="url(#bl)"/>
<rect x="67.00" y="362" width="12" height="28" fill="#000" fill-opacity="0.03" filter="url(#bl)"/>
<rect x="67.00" y="372.60" width="12.00" height="5.80" rx="2.23" fill="#000" fill-opacity="1.0" filter="url(#bl)"/>
<rect x="83.20" y="362" width="12" height="28" fill="#000" fill-opacity="0.03" filter="url(#bl)"/>
<rect x="83.20" y="372.60" width="12.00" height="5.80" rx="2.23" fill="#000" fill-opacity="1.0" filter="url(#bl)"/>
<rect x="99.80" y="362" width="12" height="28" fill="#000" fill-opacity="0.03" filter="url(#bl)"/>
<rect x="99.80" y="372.60" width="12.00" height="5.80" rx="2.23" fill="#000" fill-opacity="1.0" filter="url(#bl)"/>
<rect x="116.00" y="362" width="12" height="28" fill="#000" fill-opacity="0.03" filter="url(#bl)"/>
<rect x="116.00" y="372.60" width="12.00" height="5.80" rx="2.23" fill="#000" fill-opacity="1.0" filter="url(#bl)"/>
<text x="173.40" y="150.50" font-size="10.5" fill="#000" text-anchor="start" font-weight="bold" font-style="normal" stroke="#000" stroke-width="0.17" >E</text>
<line x1="201.50" y1="166.80" x2="201.50" y2="229.20" stroke="#888" stroke-width="0.8" />
<line x1="201.50" y1="229.20" x2="294.00" y2="229.20" stroke="#666" stroke-width="0.8" />
<line x1="199.00" y1="229.20" x2="201.50" y2="229.20" stroke="#888" stroke-width="0.8" />
<text x="198.00" y="232.20" font-size="8.2" fill="#000" text-anchor="end" font-weight="normal" font-style="normal" stroke="#000" stroke-width="0.17" >0</text>
<line x1="199.00" y1="208.40" x2="201.50" y2="208.40" stroke="#888" stroke-width="0.8" />
<text x="198.00" y="211.40" font-size="8.2" fill="#000" text-anchor="end" font-weight="normal" font-style="normal" stroke="#000" stroke-width="0.17" >1</text>
<line x1="199.00" y1="187.60" x2="201.50" y2="187.60" stroke="#888" stroke-width="0.8" />
<text x="198.00" y="190.60" font-size="8.2" fill="#000" text-anchor="end" font-weight="normal" font-style="normal" stroke="#000" stroke-width="0.17" >2</text>
<line x1="199.00" y1="166.80" x2="201.50" y2="166.80" stroke="#888" stroke-width="0.8" />
<text x="198.00" y="169.80" font-size="8.2" fill="#000" text-anchor="end" font-weight="normal" font-style="normal" stroke="#000" stroke-width="0.17" >3</text>
<text transform="translate(179.80,194.40) rotate(-90)" font-size="7.9" text-anchor="middle" fill="#000" stroke="#000" stroke-width="0.17">Proteasome activity</text>
<text transform="translate(188.20,194.40) rotate(-90)" font-size="7.9" text-anchor="middle" fill="#000" stroke="#000" stroke-width="0.17">AMC (pmol)</text>
<text transform="translate(209.60,235.50) rotate(-45)" font-size="8.2" text-anchor="end" fill="#000" stroke="#000" stroke-width="0.17">BM</text>
<text transform="translate(222.10,235.50) rotate(-45)" font-size="8.2" text-anchor="end" fill="#000" stroke="#000" stroke-width="0.17">Lung</text>
<text transform="translate(235.70,235.50) rotate(-45)" font-size="8.2" text-anchor="end" fill="#000" stroke="#000" stroke-width="0.17">Brain</text>
<text transform="translate(249.00,235.50) rotate(-45)" font-size="8.2" text-anchor="end" fill="#000" stroke="#000" stroke-width="0.17">B cells</text>
<text transform="translate(261.60,235.50) rotate(-45)" font-size="8.2" text-anchor="end" fill="#000" stroke="#000" stroke-width="0.17">Liver</text>
<text transform="translate(274.20,235.50) rotate(-45)" font-size="8.2" text-anchor="end" fill="#000" stroke="#000" stroke-width="0.17">Thymus</text>
<text transform="translate(287.90,235.50) rotate(-45)" font-size="8.2" text-anchor="end" fill="#000" stroke="#000" stroke-width="0.17">Pancreas</text>
<circle cx="205.40" cy="208.40" r="1.65" fill="#d8601e" stroke="#222" stroke-width="0.55" />
<circle cx="205.40" cy="209.02" r="1.65" fill="#d8601e" stroke="#222" stroke-width="0.55" />
<circle cx="210.90" cy="222.34" r="1.65" fill="#3a7a3a" stroke="#222" stroke-width="0.55" />
<circle cx="210.90" cy="224.00" r="1.65" fill="#3a7a3a" stroke="#222" stroke-width="0.55" />
<circle cx="210.90" cy="225.04" r="1.65" fill="#3a7a3a" stroke="#222" stroke-width="0.55" />
<circle cx="217.90" cy="220.26" r="1.65" fill="#d8601e" stroke="#222" stroke-width="0.55" />
<circle cx="217.90" cy="220.88" r="1.65" fill="#d8601e" stroke="#222" stroke-width="0.55" />
<circle cx="223.40" cy="222.54" r="1.65" fill="#3a7a3a" stroke="#222" stroke-width="0.55" />
<circle cx="223.40" cy="223.38" r="1.65" fill="#3a7a3a" stroke="#222" stroke-width="0.55" />
<circle cx="231.50" cy="177.20" r="1.65" fill="#d8601e" stroke="#222" stroke-width="0.55" />
<circle cx="231.50" cy="178.86" r="1.65" fill="#d8601e" stroke="#222" stroke-width="0.55" />
<circle cx="231.50" cy="180.32" r="1.65" fill="#d8601e" stroke="#222" stroke-width="0.55" />
<circle cx="237.00" cy="178.24" r="1.65" fill="#3a7a3a" stroke="#222" stroke-width="0.55" />
<circle cx="237.00" cy="180.32" r="1.65" fill="#3a7a3a" stroke="#222" stroke-width="0.55" />
<circle cx="237.00" cy="182.40" r="1.65" fill="#3a7a3a" stroke="#222" stroke-width="0.55" />
<circle cx="244.80" cy="206.74" r="1.65" fill="#d8601e" stroke="#222" stroke-width="0.55" />
<circle cx="244.80" cy="207.98" r="1.65" fill="#d8601e" stroke="#222" stroke-width="0.55" />
<circle cx="250.30" cy="221.92" r="1.65" fill="#3a7a3a" stroke="#222" stroke-width="0.55" />
<circle cx="250.30" cy="222.96" r="1.65" fill="#3a7a3a" stroke="#222" stroke-width="0.55" />
<circle cx="257.40" cy="220.88" r="1.65" fill="#d8601e" stroke="#222" stroke-width="0.55" />
<circle cx="257.40" cy="221.30" r="1.65" fill="#d8601e" stroke="#222" stroke-width="0.55" />
<circle cx="262.90" cy="223.58" r="1.65" fill="#3a7a3a" stroke="#222" stroke-width="0.55" />
<circle cx="262.90" cy="224.62" r="1.65" fill="#3a7a3a" stroke="#222" stroke-width="0.55" />
<circle cx="270.00" cy="178.24" r="1.65" fill="#d8601e" stroke="#222" stroke-width="0.55" />
<circle cx="270.00" cy="184.48" r="1.65" fill="#d8601e" stroke="#222" stroke-width="0.55" />
<circle cx="270.00" cy="186.56" r="1.65" fill="#d8601e" stroke="#222" stroke-width="0.55" />
<circle cx="270.00" cy="188.02" r="1.65" fill="#d8601e" stroke="#222" stroke-width="0.55" />
<circle cx="275.50" cy="199.66" r="1.65" fill="#3a7a3a" stroke="#222" stroke-width="0.55" />
<circle cx="275.50" cy="202.16" r="1.65" fill="#3a7a3a" stroke="#222" stroke-width="0.55" />
<circle cx="275.50" cy="204.24" r="1.65" fill="#3a7a3a" stroke="#222" stroke-width="0.55" />
<circle cx="283.70" cy="219.63" r="1.65" fill="#d8601e" stroke="#222" stroke-width="0.55" />
<circle cx="283.70" cy="220.26" r="1.65" fill="#d8601e" stroke="#222" stroke-width="0.55" />
<circle cx="289.20" cy="228.78" r="1.65" fill="#3a7a3a" stroke="#222" stroke-width="0.55" />
<circle cx="270.00" cy="178.24" r="1.65" fill="#f0a040" stroke="#222" stroke-width="0.55" />
<line x1="210.90" y1="222.34" x2="210.90" y2="225.04" stroke="#d85020" stroke-width="0.8" />
<line x1="223.40" y1="222.54" x2="223.40" y2="223.38" stroke="#d85020" stroke-width="0.8" />
<line x1="237.00" y1="178.24" x2="237.00" y2="182.40" stroke="#d85020" stroke-width="0.8" />
<line x1="250.30" y1="221.92" x2="250.30" y2="222.96" stroke="#d85020" stroke-width="0.8" />
<line x1="262.90" y1="223.58" x2="262.90" y2="224.62" stroke="#d85020" stroke-width="0.8" />
<line x1="275.50" y1="199.66" x2="275.50" y2="204.24" stroke="#d85020" stroke-width="0.8" />
<text x="211.50" y="219.70" font-size="7.5" fill="#000" text-anchor="middle" font-weight="normal" font-style="normal" stroke="#000" stroke-width="0.17" >***</text>
<text x="225.60" y="219.70" font-size="7.5" fill="#000" text-anchor="middle" font-weight="normal" font-style="normal" stroke="#000" stroke-width="0.17" >***</text>
<text x="251.00" y="219.20" font-size="7.5" fill="#000" text-anchor="middle" font-weight="normal" font-style="normal" stroke="#000" stroke-width="0.17" >***</text>
<text x="265.00" y="220.70" font-size="7.5" fill="#000" text-anchor="middle" font-weight="normal" font-style="normal" stroke="#000" stroke-width="0.17" >***</text>
<text x="276.00" y="197.20" font-size="7.5" fill="#000" text-anchor="middle" font-weight="normal" font-style="normal" stroke="#000" stroke-width="0.17" >***</text>
<text x="291.20" y="225.20" font-size="7.5" fill="#000" text-anchor="middle" font-weight="normal" font-style="normal" stroke="#000" stroke-width="0.17" >***</text>
<text x="238.50" y="173.30" font-size="8.2" fill="#000" text-anchor="middle" font-weight="normal" font-style="normal" stroke="#000" stroke-width="0.17" >NS</text>
<rect x="258.50" y="147.20" width="38.10" height="22.00" fill="#fff" stroke="#555" stroke-width="0.7" />
<circle cx="263.50" cy="153.70" r="1.9" fill="#f0a040" stroke="#222" stroke-width="0.5" />
<text x="267.30" y="156.70" font-size="8.2" fill="#000" text-anchor="start" font-weight="normal" font-style="normal" stroke="#000" stroke-width="0.17" >+/+</text>
<circle cx="263.50" cy="162.80" r="1.9" fill="#3a7a3a" stroke="#222" stroke-width="0.5" />
<text x="267.30" y="165.80" font-size="8.2" fill="#000" text-anchor="start" font-weight="normal" font-style="italic" stroke="#000" stroke-width="0.17" >KD/KD</text>
<text x="305.70" y="150.50" font-size="10.5" fill="#000" text-anchor="start" font-weight="bold" font-style="normal" stroke="#000" stroke-width="0.17" >F</text>
<text x="366.40" y="168.80" font-size="8.2" fill="#000" text-anchor="end" font-weight="normal" font-style="normal" stroke="#000" stroke-width="0.17" >hMIDN-WT</text>
<text x="366.40" y="185.80" font-size="8.2" fill="#000" text-anchor="end" font-weight="normal" font-style="normal" stroke="#000" stroke-width="0.17" >hMIDN-<tspan font-style='italic'>Midnight</tspan></text>
<text x="366.40" y="202.00" font-size="8.2" fill="#000" text-anchor="end" font-weight="normal" font-style="normal" stroke="#000" stroke-width="0.17" >hMIDN-<tspan font-style='italic'>full_moon</tspan></text>
<text x="366.40" y="222.60" font-size="8.2" fill="#000" text-anchor="end" font-weight="normal" font-style="normal" stroke="#000" stroke-width="0.17" >hMIDN-ΔC-term</text>
<text x="366.40" y="238.00" font-size="8.2" fill="#000" text-anchor="end" font-weight="normal" font-style="normal" stroke="#000" stroke-width="0.17" >hMIDN-UBL</text>
<text x="366.40" y="251.80" font-size="8.2" fill="#000" text-anchor="end" font-weight="normal" font-style="normal" stroke="#000" stroke-width="0.17" >hMIDN-ΔUBL</text>
<rect x="371.00" y="162.80" width="141.30" height="6.00" fill="#a3bfe6" stroke="none" stroke-width="0.8" />
<rect x="379.80" y="162.40" width="20.70" height="6.80" fill="#9448a4" stroke="none" stroke-width="0.8" />
<rect x="380.40" y="164.30" width="19.50" height="3.00" fill="#f8f0fa" stroke="none" stroke-width="0.8" />
<line x1="380.40" y1="163.40" x2="399.90" y2="163.40" stroke="#b868c0" stroke-width="0.5" />
<text x="390.15" y="168.30" font-size="6.6" font-weight="bold" text-anchor="middle" textLength="12" lengthAdjust="spacingAndGlyphs" fill="#1a1020">UBL</text>
<rect x="403.00" y="162.70" width="20.80" height="6.20" fill="#b9dc80" stroke="none" stroke-width="0.8" />
<text x="413.40" y="168.30" font-size="6.6" font-weight="bold" text-anchor="middle" textLength="19" lengthAdjust="spacingAndGlyphs" fill="#111" stroke="#f4fbe8" stroke-width="0.9" stroke-opacity="0.8" paint-order="stroke">Catch1</text>
<rect x="454.30" y="162.70" width="20.10" height="6.20" fill="#b9dc80" stroke="none" stroke-width="0.8" />
<text x="464.35" y="168.30" font-size="6.6" font-weight="bold" text-anchor="middle" textLength="19" lengthAdjust="spacingAndGlyphs" fill="#111" stroke="#f4fbe8" stroke-width="0.9" stroke-opacity="0.8" paint-order="stroke">Catch2</text>
<rect x="486.00" y="162.50" width="7.50" height="6.60" fill="#5b58b2" stroke="none" stroke-width="0.8" />
<rect x="493.50" y="162.50" width="3.50" height="6.60" fill="#b24aa8" stroke="none" stroke-width="0.8" />
<rect x="486.00" y="164.70" width="11.00" height="2.40" fill="#f6f4fb" stroke="none" stroke-width="0.8" />
<rect x="371.00" y="179.80" width="141.30" height="6.00" fill="#a3bfe6" stroke="none" stroke-width="0.8" />
<rect x="379.80" y="179.40" width="20.70" height="6.80" fill="#9448a4" stroke="none" stroke-width="0.8" />
<rect x="380.40" y="181.30" width="19.50" height="3.00" fill="#f8f0fa" stroke="none" stroke-width="0.8" />
<line x1="380.40" y1="180.40" x2="399.90" y2="180.40" stroke="#b868c0" stroke-width="0.5" />
<text x="390.15" y="185.30" font-size="6.6" font-weight="bold" text-anchor="middle" textLength="12" lengthAdjust="spacingAndGlyphs" fill="#1a1020">UBL</text>
<rect x="403.00" y="179.70" width="20.80" height="6.20" fill="#b9dc80" stroke="none" stroke-width="0.8" />
<text x="413.40" y="185.30" font-size="6.6" font-weight="bold" text-anchor="middle" textLength="19" lengthAdjust="spacingAndGlyphs" fill="#111" stroke="#f4fbe8" stroke-width="0.9" stroke-opacity="0.8" paint-order="stroke">Catch1</text>
<rect x="454.30" y="179.70" width="20.10" height="6.20" fill="#b9dc80" stroke="none" stroke-width="0.8" />
<text x="464.35" y="185.30" font-size="6.6" font-weight="bold" text-anchor="middle" textLength="19" lengthAdjust="spacingAndGlyphs" fill="#111" stroke="#f4fbe8" stroke-width="0.9" stroke-opacity="0.8" paint-order="stroke">Catch2</text>
<rect x="486.00" y="179.50" width="7.50" height="6.60" fill="#5b58b2" stroke="none" stroke-width="0.8" />
<rect x="493.50" y="179.50" width="3.50" height="6.60" fill="#b24aa8" stroke="none" stroke-width="0.8" />
<rect x="486.00" y="181.70" width="11.00" height="2.40" fill="#f6f4fb" stroke="none" stroke-width="0.8" />
<rect x="371.00" y="196.00" width="141.30" height="6.00" fill="#a3bfe6" stroke="none" stroke-width="0.8" />
<rect x="379.80" y="195.60" width="20.70" height="6.80" fill="#9448a4" stroke="none" stroke-width="0.8" />
<rect x="380.40" y="197.50" width="19.50" height="3.00" fill="#f8f0fa" stroke="none" stroke-width="0.8" />
<line x1="380.40" y1="196.60" x2="399.90" y2="196.60" stroke="#b868c0" stroke-width="0.5" />
<text x="390.15" y="201.50" font-size="6.6" font-weight="bold" text-anchor="middle" textLength="12" lengthAdjust="spacingAndGlyphs" fill="#1a1020">UBL</text>
<rect x="403.00" y="195.90" width="20.80" height="6.20" fill="#b9dc80" stroke="none" stroke-width="0.8" />
<text x="413.40" y="201.50" font-size="6.6" font-weight="bold" text-anchor="middle" textLength="19" lengthAdjust="spacingAndGlyphs" fill="#111" stroke="#f4fbe8" stroke-width="0.9" stroke-opacity="0.8" paint-order="stroke">Catch1</text>
<rect x="454.30" y="195.90" width="20.10" height="6.20" fill="#b9dc80" stroke="none" stroke-width="0.8" />
<text x="464.35" y="201.50" font-size="6.6" font-weight="bold" text-anchor="middle" textLength="19" lengthAdjust="spacingAndGlyphs" fill="#111" stroke="#f4fbe8" stroke-width="0.9" stroke-opacity="0.8" paint-order="stroke">Catch2</text>
<rect x="486.00" y="195.70" width="7.50" height="6.60" fill="#5b58b2" stroke="none" stroke-width="0.8" />
<rect x="493.50" y="195.70" width="3.50" height="6.60" fill="#b24aa8" stroke="none" stroke-width="0.8" />
<rect x="486.00" y="197.90" width="11.00" height="2.40" fill="#f6f4fb" stroke="none" stroke-width="0.8" />
<rect x="380.00" y="216.60" width="93.80" height="6.00" fill="#a3bfe6" stroke="none" stroke-width="0.8" />
<rect x="379.80" y="216.20" width="20.70" height="6.80" fill="#9448a4" stroke="none" stroke-width="0.8" />
<rect x="380.40" y="218.10" width="19.50" height="3.00" fill="#f8f0fa" stroke="none" stroke-width="0.8" />
<line x1="380.40" y1="217.20" x2="399.90" y2="217.20" stroke="#b868c0" stroke-width="0.5" />
<text x="390.15" y="222.10" font-size="6.6" font-weight="bold" text-anchor="middle" textLength="12" lengthAdjust="spacingAndGlyphs" fill="#1a1020">UBL</text>
<rect x="403.00" y="216.50" width="20.80" height="6.20" fill="#b9dc80" stroke="none" stroke-width="0.8" />
<text x="413.40" y="222.10" font-size="6.6" font-weight="bold" text-anchor="middle" textLength="19" lengthAdjust="spacingAndGlyphs" fill="#111" stroke="#f4fbe8" stroke-width="0.9" stroke-opacity="0.8" paint-order="stroke">Catch1</text>
<rect x="454.30" y="216.50" width="19.50" height="6.20" fill="#b9dc80" stroke="none" stroke-width="0.8" />
<text x="464.05" y="222.10" font-size="6.6" font-weight="bold" text-anchor="middle" textLength="19" lengthAdjust="spacingAndGlyphs" fill="#111" stroke="#f4fbe8" stroke-width="0.9" stroke-opacity="0.8" paint-order="stroke">Catch2</text>
<rect x="379.80" y="231.60" width="20.70" height="6.80" fill="#9448a4" stroke="none" stroke-width="0.8" />
<rect x="380.40" y="233.50" width="19.50" height="3.00" fill="#f8f0fa" stroke="none" stroke-width="0.8" />
<line x1="380.40" y1="232.60" x2="399.90" y2="232.60" stroke="#b868c0" stroke-width="0.5" />
<text x="390.15" y="237.50" font-size="6.6" font-weight="bold" text-anchor="middle" textLength="12" lengthAdjust="spacingAndGlyphs" fill="#1a1020">UBL</text>
<rect x="400.50" y="245.80" width="111.80" height="6.00" fill="#a3bfe6" stroke="none" stroke-width="0.8" />
<rect x="403.00" y="245.70" width="20.80" height="6.20" fill="#b9dc80" stroke="none" stroke-width="0.8" />
<text x="413.40" y="251.30" font-size="6.6" font-weight="bold" text-anchor="middle" textLength="19" lengthAdjust="spacingAndGlyphs" fill="#111" stroke="#f4fbe8" stroke-width="0.9" stroke-opacity="0.8" paint-order="stroke">Catch1</text>
<rect x="454.30" y="245.70" width="20.10" height="6.20" fill="#b9dc80" stroke="none" stroke-width="0.8" />
<text x="464.35" y="251.30" font-size="6.6" font-weight="bold" text-anchor="middle" textLength="19" lengthAdjust="spacingAndGlyphs" fill="#111" stroke="#f4fbe8" stroke-width="0.9" stroke-opacity="0.8" paint-order="stroke">Catch2</text>
<rect x="486.00" y="245.50" width="7.50" height="6.60" fill="#5b58b2" stroke="none" stroke-width="0.8" />
<rect x="493.50" y="245.50" width="3.50" height="6.60" fill="#b24aa8" stroke="none" stroke-width="0.8" />
<rect x="486.00" y="247.70" width="11.00" height="2.40" fill="#f6f4fb" stroke="none" stroke-width="0.8" />
<text x="369.20" y="161.60" font-size="8.2" fill="#000" text-anchor="start" font-weight="normal" font-style="normal" stroke="#000" stroke-width="0.17" >1</text>
<text x="478.50" y="159.60" font-size="8.2" fill="#000" text-anchor="start" font-weight="normal" font-style="normal" stroke="#000" stroke-width="0.17" font-family="Liberation Serif">α-</text>
<text x="485.70" y="159.60" font-size="8.2" fill="#000" text-anchor="start" font-weight="normal" font-style="normal" stroke="#000" stroke-width="0.17" >helix</text>
<line x1="486.30" y1="160.60" x2="496.30" y2="160.60" stroke="#444" stroke-width="0.5" />
<line x1="486.30" y1="160.60" x2="486.30" y2="162.30" stroke="#444" stroke-width="0.5" />
<line x1="496.30" y1="160.60" x2="496.30" y2="162.30" stroke="#444" stroke-width="0.5" />
<text x="504.40" y="161.40" font-size="8.2" fill="#000" text-anchor="start" font-weight="normal" font-style="normal" stroke="#000" stroke-width="0.17" >468</text>
<text x="495.00" y="177.30" font-size="8.2" fill="#000" text-anchor="middle" font-weight="normal" font-style="normal" stroke="#000" stroke-width="0.17" >NLS</text>
<line x1="491.50" y1="169.20" x2="493.00" y2="171.20" stroke="#444" stroke-width="0.5" />
<line x1="495.50" y1="169.20" x2="494.00" y2="171.20" stroke="#444" stroke-width="0.5" />
<text x="458.50" y="194.60" font-size="8.2" fill="#000" text-anchor="middle" font-weight="normal" font-style="normal" stroke="#000" stroke-width="0.17" >S281P</text>
<line x1="461.50" y1="185.70" x2="461.50" y2="187.00" stroke="#d04040" stroke-width="0.6" />
<text x="374.00" y="208.60" font-size="7.2" fill="#000" text-anchor="middle" font-weight="normal" font-style="normal" stroke="#000" stroke-width="0.17" >R12L</text>
<line x1="372.50" y1="202.30" x2="373.00" y2="204.00" stroke="#d04040" stroke-width="0.6" />
<text x="384.00" y="216.70" font-size="8.2" fill="#000" text-anchor="middle" font-weight="normal" font-style="normal" stroke="#000" stroke-width="0.17" >28</text>
<text x="476.00" y="216.70" font-size="8.2" fill="#000" text-anchor="middle" font-weight="normal" font-style="normal" stroke="#000" stroke-width="0.17" >340</text>
<text x="384.00" y="231.20" font-size="8.2" fill="#000" text-anchor="middle" font-weight="normal" font-style="normal" stroke="#000" stroke-width="0.17" >28</text>
<text x="403.00" y="231.20" font-size="8.2" fill="#000" text-anchor="middle" font-weight="normal" font-style="normal" stroke="#000" stroke-width="0.17" >105</text>
<text x="403.00" y="245.80" font-size="8.2" fill="#000" text-anchor="middle" font-weight="normal" font-style="normal" stroke="#000" stroke-width="0.17" >105</text>
<text x="512.00" y="245.80" font-size="8.2" fill="#000" text-anchor="middle" font-weight="normal" font-style="normal" stroke="#000" stroke-width="0.17" >468</text>
<text x="173.00" y="262.50" font-size="10.5" fill="#000" text-anchor="start" font-weight="bold" font-style="normal" stroke="#000" stroke-width="0.17" >G</text>
<line x1="199.40" y1="281.20" x2="199.40" y2="344.40" stroke="#666" stroke-width="0.8" />
<line x1="199.40" y1="344.40" x2="325.40" y2="344.40" stroke="#666" stroke-width="0.8" />
<line x1="196.90" y1="339.60" x2="199.40" y2="339.60" stroke="#666" stroke-width="0.8" />
<text x="195.90" y="342.60" font-size="8.2" fill="#000" text-anchor="end" font-weight="normal" font-style="normal" stroke="#000" stroke-width="0.17" >0</text>
<line x1="196.90" y1="320.13" x2="199.40" y2="320.13" stroke="#666" stroke-width="0.8" />
<text x="195.90" y="323.13" font-size="8.2" fill="#000" text-anchor="end" font-weight="normal" font-style="normal" stroke="#000" stroke-width="0.17" >40</text>
<line x1="196.90" y1="300.66" x2="199.40" y2="300.66" stroke="#666" stroke-width="0.8" />
<text x="195.90" y="303.66" font-size="8.2" fill="#000" text-anchor="end" font-weight="normal" font-style="normal" stroke="#000" stroke-width="0.17" >80</text>
<line x1="196.90" y1="281.20" x2="199.40" y2="281.20" stroke="#666" stroke-width="0.8" />
<text x="195.90" y="284.20" font-size="8.2" fill="#000" text-anchor="end" font-weight="normal" font-style="normal" stroke="#000" stroke-width="0.17" >120</text>
<line x1="199.40" y1="344.40" x2="199.40" y2="346.90" stroke="#666" stroke-width="0.8" />
<text x="199.40" y="354.90" font-size="8.2" fill="#000" text-anchor="middle" font-weight="normal" font-style="normal" stroke="#000" stroke-width="0.17" >0</text>
<line x1="224.40" y1="344.40" x2="224.40" y2="346.90" stroke="#666" stroke-width="0.8" />
<text x="224.40" y="354.90" font-size="8.2" fill="#000" text-anchor="middle" font-weight="normal" font-style="normal" stroke="#000" stroke-width="0.17" >5</text>
<line x1="249.40" y1="344.40" x2="249.40" y2="346.90" stroke="#666" stroke-width="0.8" />
<text x="249.40" y="354.90" font-size="8.2" fill="#000" text-anchor="middle" font-weight="normal" font-style="normal" stroke="#000" stroke-width="0.17" >10</text>
<line x1="274.40" y1="344.40" x2="274.40" y2="346.90" stroke="#666" stroke-width="0.8" />
<text x="274.40" y="354.90" font-size="8.2" fill="#000" text-anchor="middle" font-weight="normal" font-style="normal" stroke="#000" stroke-width="0.17" >15</text>
<line x1="299.40" y1="344.40" x2="299.40" y2="346.90" stroke="#666" stroke-width="0.8" />
<text x="299.40" y="354.90" font-size="8.2" fill="#000" text-anchor="middle" font-weight="normal" font-style="normal" stroke="#000" stroke-width="0.17" >20</text>
<line x1="324.40" y1="344.40" x2="324.40" y2="346.90" stroke="#666" stroke-width="0.8" />
<text x="324.40" y="354.90" font-size="8.2" fill="#000" text-anchor="middle" font-weight="normal" font-style="normal" stroke="#000" stroke-width="0.17" >25</text>
<text x="262.20" y="363.60" font-size="8.2" fill="#000" text-anchor="middle" font-weight="normal" font-style="normal" stroke="#000" stroke-width="0.17" >Elution volume (mL)</text>
<text transform="translate(180.20,313.00) rotate(-90)" font-size="8.2" text-anchor="middle" fill="#000" stroke="#000" stroke-width="0.17">Normalized Absorbance</text>
<path d="M199.40,339.31 C206.48,339.31 234.15,339.31 241.90,339.31 C249.65,339.23 244.82,339.31 245.90,338.87 C246.98,338.27 247.57,337.37 248.40,335.71 C249.23,334.04 250.07,331.49 250.90,328.89 C251.73,326.30 252.57,322.57 253.40,320.13 C254.23,317.70 255.07,315.91 255.90,314.29 C256.73,312.67 257.57,312.02 258.40,310.40 C259.23,308.78 260.15,306.83 260.90,304.56 C261.65,302.29 262.23,299.04 262.90,296.77 C263.57,294.50 264.23,291.34 264.90,290.93 C265.57,290.93 266.15,291.90 266.90,294.34 C267.65,296.77 268.57,302.21 269.40,305.53 C270.23,308.86 271.07,311.86 271.90,314.29 C272.73,316.73 273.48,318.51 274.40,320.13 C275.32,321.75 276.32,323.13 277.40,324.03 C278.48,324.92 279.48,325.49 280.90,325.49 C282.32,325.32 284.48,323.13 285.90,323.05 C287.32,323.05 288.32,324.51 289.40,325.00 C290.48,325.49 291.32,325.97 292.40,325.97 C293.48,325.89 294.82,324.51 295.90,324.51 C296.98,324.84 297.90,326.86 298.90,327.92 C299.90,328.97 300.90,330.51 301.90,330.84 C302.90,330.84 303.90,330.84 304.90,329.87 C305.90,328.89 307.15,326.30 307.90,325.00 C308.65,323.70 308.82,322.08 309.40,322.08 C309.98,322.16 310.65,324.51 311.40,325.49 C312.15,326.46 313.07,327.27 313.90,327.92 C314.73,328.57 315.65,328.65 316.40,329.38 C317.15,330.11 317.73,332.06 318.40,332.30 C319.07,332.30 319.73,331.00 320.40,330.84 C321.07,330.84 322.07,331.24 322.40,331.33" fill="none" stroke="#f0a040" stroke-width="0.85" stroke-linejoin="round"/>
<path d="M199.40,332.79 C200.07,332.95 202.15,333.68 203.40,333.76 C204.65,333.76 205.48,333.27 206.90,333.27 C208.32,333.60 210.23,334.98 211.90,335.71 C213.57,336.44 214.82,337.21 216.90,337.65 C218.98,338.10 221.48,338.26 224.40,338.38 C227.32,338.38 231.40,338.38 234.40,338.38 C237.40,338.38 240.73,338.38 242.40,338.38 C244.07,336.96 243.82,335.75 244.40,329.87 C244.98,323.99 245.40,309.59 245.90,303.10 C246.40,296.61 246.94,291.34 247.40,290.93 C247.86,290.93 248.15,295.63 248.65,300.66 C249.15,305.69 249.78,316.24 250.40,321.11 C251.03,325.97 251.57,328.00 252.40,329.87 C253.23,331.73 253.82,331.73 255.40,332.30 C256.98,332.87 260.15,333.27 261.90,333.27 C263.65,333.27 264.48,332.30 265.90,332.30 C267.32,332.30 268.82,332.87 270.40,333.27 C271.98,333.68 273.65,334.57 275.40,334.73 C277.15,334.73 278.98,334.57 280.90,334.25 C282.82,333.92 285.07,333.03 286.90,332.79 C288.73,332.79 290.23,332.79 291.90,332.79 C293.57,332.22 295.40,329.38 296.90,329.38 C298.40,329.62 299.65,333.03 300.90,334.25 C302.15,335.46 303.23,336.44 304.40,336.68 C305.57,336.68 306.90,335.71 307.90,335.71 C308.90,335.79 309.48,336.60 310.40,337.17 C311.32,337.73 312.32,339.03 313.40,339.11 C314.48,339.11 315.48,338.06 316.90,337.65 C318.32,337.25 321.07,336.84 321.90,336.68" fill="none" stroke="#4d9a98" stroke-width="0.85" stroke-linejoin="round"/>
<path d="M199.40,338.72 C203.57,338.72 217.57,338.72 224.40,338.72 C231.23,338.72 237.48,338.72 240.40,338.72 C243.32,337.90 241.40,338.72 241.90,333.76 C242.40,328.23 242.98,312.67 243.40,305.53 C243.82,298.39 244.07,293.04 244.40,290.93 C244.73,290.93 245.03,290.93 245.40,292.88 C245.78,296.53 246.19,307.07 246.65,312.83 C247.11,318.59 247.61,324.19 248.15,327.43 C248.69,330.68 249.19,331.16 249.90,332.30 C250.61,333.44 251.23,333.68 252.40,334.25 C253.57,334.81 254.90,335.22 256.90,335.71 C258.90,336.19 261.48,336.84 264.40,337.17 C267.32,337.49 271.07,337.65 274.40,337.65 C277.73,337.65 281.48,337.17 284.40,337.17 C287.32,337.17 289.82,337.65 291.90,337.65 C293.98,337.57 295.23,336.68 296.90,336.68 C298.57,336.68 299.82,337.41 301.90,337.65 C303.98,337.90 307.32,337.98 309.40,338.14 C311.48,338.30 312.32,338.63 314.40,338.63 C316.48,338.63 320.65,338.22 321.90,338.14" fill="none" stroke="#80a8dc" stroke-width="0.85" stroke-linejoin="round"/>
<rect x="269.20" y="266.20" width="80.60" height="30.80" fill="#fff" stroke="#555" stroke-width="0.7" />
<line x1="273.00" y1="272.30" x2="280.00" y2="272.30" stroke="#f0a040" stroke-width="0.9" />
<text x="281.60" y="275.30" font-size="8.2" fill="#000" text-anchor="start" font-weight="normal" font-style="normal" stroke="#000" stroke-width="0.17" >hMIDN WT</text>
<line x1="273.00" y1="281.80" x2="280.00" y2="281.80" stroke="#4d9a98" stroke-width="0.9" />
<text x="281.60" y="284.80" font-size="8.2" fill="#000" text-anchor="start" font-weight="normal" font-style="normal" stroke="#000" stroke-width="0.17" >hMIDN-<tspan font-style='italic'>Midnight</tspan></text>
<line x1="273.00" y1="291.30" x2="280.00" y2="291.30" stroke="#80a8dc" stroke-width="0.9" />
<text x="281.60" y="294.30" font-size="8.2" fill="#000" text-anchor="start" font-weight="normal" font-style="normal" stroke="#000" stroke-width="0.17" >hMIDN-<tspan font-style='italic'>full_moon</tspan></text>
<text x="355.20" y="273.00" font-size="10.5" fill="#000" text-anchor="start" font-weight="bold" font-style="normal" stroke="#000" stroke-width="0.17" >H</text>
<line x1="388.50" y1="288.70" x2="388.50" y2="351.20" stroke="#444" stroke-width="0.8" />
<line x1="388.50" y1="351.20" x2="512.00" y2="351.20" stroke="#444" stroke-width="0.8" />
<line x1="386.00" y1="336.90" x2="388.50" y2="336.90" stroke="#444" stroke-width="0.8" />
<text x="385.00" y="339.90" font-size="8.2" fill="#000" text-anchor="end" font-weight="normal" font-style="normal" stroke="#000" stroke-width="0.17" >200</text>
<line x1="386.00" y1="312.80" x2="388.50" y2="312.80" stroke="#444" stroke-width="0.8" />
<text x="385.00" y="315.80" font-size="8.2" fill="#000" text-anchor="end" font-weight="normal" font-style="normal" stroke="#000" stroke-width="0.17" >400</text>
<line x1="386.00" y1="288.70" x2="388.50" y2="288.70" stroke="#444" stroke-width="0.8" />
<text x="385.00" y="291.70" font-size="8.2" fill="#000" text-anchor="end" font-weight="normal" font-style="normal" stroke="#000" stroke-width="0.17" >600</text>
<line x1="395.50" y1="351.20" x2="395.50" y2="353.20" stroke="#444" stroke-width="0.7" />
<text transform="translate(399.50,358.70) rotate(-45)" font-size="8.2" text-anchor="end" fill="#000" stroke="#000" stroke-width="0.17">Control</text>
<line x1="409.50" y1="351.20" x2="409.50" y2="353.20" stroke="#444" stroke-width="0.7" />
<text transform="translate(413.50,358.70) rotate(-45)" font-size="8.2" text-anchor="end" fill="#000" stroke="#000" stroke-width="0.17">9.8</text>
<line x1="423.75" y1="351.20" x2="423.75" y2="353.20" stroke="#444" stroke-width="0.7" />
<text transform="translate(427.75,358.70) rotate(-45)" font-size="8.2" text-anchor="end" fill="#000" stroke="#000" stroke-width="0.17">39</text>
<line x1="437.50" y1="351.20" x2="437.50" y2="353.20" stroke="#444" stroke-width="0.7" />
<text transform="translate(441.50,358.70) rotate(-45)" font-size="8.2" text-anchor="end" fill="#000" stroke="#000" stroke-width="0.17">156</text>
<line x1="451.75" y1="351.20" x2="451.75" y2="353.20" stroke="#444" stroke-width="0.7" />
<text transform="translate(455.75,358.70) rotate(-45)" font-size="8.2" text-anchor="end" fill="#000" stroke="#000" stroke-width="0.17">312</text>
<line x1="465.75" y1="351.20" x2="465.75" y2="353.20" stroke="#444" stroke-width="0.7" />
<text transform="translate(469.75,358.70) rotate(-45)" font-size="8.2" text-anchor="end" fill="#000" stroke="#000" stroke-width="0.17">625</text>
<line x1="480.00" y1="351.20" x2="480.00" y2="353.20" stroke="#444" stroke-width="0.7" />
<text transform="translate(484.00,358.70) rotate(-45)" font-size="8.2" text-anchor="end" fill="#000" stroke="#000" stroke-width="0.17">1250</text>
<line x1="493.75" y1="351.20" x2="493.75" y2="353.20" stroke="#444" stroke-width="0.7" />
<text transform="translate(497.75,358.70) rotate(-45)" font-size="8.2" text-anchor="end" fill="#000" stroke="#000" stroke-width="0.17">2500</text>
<line x1="507.50" y1="351.20" x2="507.50" y2="353.20" stroke="#444" stroke-width="0.7" />
<text transform="translate(511.50,358.70) rotate(-45)" font-size="8.2" text-anchor="end" fill="#000" stroke="#000" stroke-width="0.17">5000</text>
<text x="446.40" y="377.80" font-size="8.2" fill="#000" text-anchor="middle" font-weight="normal" font-style="normal" stroke="#000" stroke-width="0.17" >hMIDN-WT (nM)</text>
<text transform="translate(360.80,319.00) rotate(-90)" font-size="7.9" text-anchor="middle" fill="#000" stroke="#000" stroke-width="0.17">LLVY-AMC-hydrolysis</text>
<text transform="translate(370.90,319.40) rotate(-90)" font-size="8.3" text-anchor="middle" fill="#000" stroke="#000" stroke-width="0.17">(% control)</text>
<polyline points="395.50,348.95 409.50,347.75 423.75,346.78 437.50,346.30 451.75,346.06 465.75,344.97 480.00,343.89 493.75,344.37 507.50,344.49" fill="none" stroke="#8cc8c8" stroke-width="0.8" stroke-linejoin="round" />
<circle cx="395.50" cy="348.95" r="1.9" fill="#2f8a88" stroke="#222" stroke-width="0.5" />
<circle cx="409.50" cy="347.75" r="1.9" fill="#2f8a88" stroke="#222" stroke-width="0.5" />
<circle cx="423.75" cy="346.78" r="1.9" fill="#2f8a88" stroke="#222" stroke-width="0.5" />
<circle cx="437.50" cy="346.30" r="1.9" fill="#2f8a88" stroke="#222" stroke-width="0.5" />
<circle cx="451.75" cy="346.06" r="1.9" fill="#2f8a88" stroke="#222" stroke-width="0.5" />
<circle cx="465.75" cy="344.97" r="1.9" fill="#2f8a88" stroke="#222" stroke-width="0.5" />
<circle cx="480.00" cy="343.89" r="1.9" fill="#2f8a88" stroke="#222" stroke-width="0.5" />
<circle cx="493.75" cy="344.37" r="1.9" fill="#2f8a88" stroke="#222" stroke-width="0.5" />
<circle cx="507.50" cy="344.49" r="1.9" fill="#2f8a88" stroke="#222" stroke-width="0.5" />
<line x1="409.50" y1="341.12" x2="409.50" y2="335.09" stroke="#e0606c" stroke-width="0.7" />
<line x1="407.70" y1="341.12" x2="411.30" y2="341.12" stroke="#e0606c" stroke-width="0.7" />
<line x1="407.70" y1="335.09" x2="411.30" y2="335.09" stroke="#e0606c" stroke-width="0.7" />
<line x1="423.75" y1="339.91" x2="423.75" y2="333.89" stroke="#e0606c" stroke-width="0.7" />
<line x1="421.95" y1="339.91" x2="425.55" y2="339.91" stroke="#e0606c" stroke-width="0.7" />
<line x1="421.95" y1="333.89" x2="425.55" y2="333.89" stroke="#e0606c" stroke-width="0.7" />
<line x1="437.50" y1="339.31" x2="437.50" y2="330.88" stroke="#e0606c" stroke-width="0.7" />
<line x1="435.70" y1="339.31" x2="439.30" y2="339.31" stroke="#e0606c" stroke-width="0.7" />
<line x1="435.70" y1="330.88" x2="439.30" y2="330.88" stroke="#e0606c" stroke-width="0.7" />
<line x1="480.00" y1="314.00" x2="480.00" y2="306.77" stroke="#e0606c" stroke-width="0.7" />
<line x1="478.20" y1="314.00" x2="481.80" y2="314.00" stroke="#e0606c" stroke-width="0.7" />
<line x1="478.20" y1="306.77" x2="481.80" y2="306.77" stroke="#e0606c" stroke-width="0.7" />
<line x1="493.75" y1="300.75" x2="493.75" y2="295.93" stroke="#e0606c" stroke-width="0.7" />
<line x1="491.95" y1="300.75" x2="495.55" y2="300.75" stroke="#e0606c" stroke-width="0.7" />
<line x1="491.95" y1="295.93" x2="495.55" y2="295.93" stroke="#e0606c" stroke-width="0.7" />
<line x1="507.50" y1="303.16" x2="507.50" y2="292.31" stroke="#e0606c" stroke-width="0.7" />
<line x1="505.70" y1="303.16" x2="509.30" y2="303.16" stroke="#e0606c" stroke-width="0.7" />
<line x1="505.70" y1="292.31" x2="509.30" y2="292.31" stroke="#e0606c" stroke-width="0.7" />
<polyline points="395.50,348.95 409.50,338.11 423.75,336.90 437.50,335.09 451.75,327.86 465.75,323.04 480.00,310.39 493.75,298.34 507.50,297.74" fill="none" stroke="#f0b060" stroke-width="0.8" stroke-linejoin="round" />
<circle cx="395.50" cy="348.95" r="1.9" fill="#e89a2a" stroke="#222" stroke-width="0.5" />
<circle cx="409.50" cy="338.11" r="1.9" fill="#e89a2a" stroke="#222" stroke-width="0.5" />
<circle cx="423.75" cy="336.90" r="1.9" fill="#e89a2a" stroke="#222" stroke-width="0.5" />
<circle cx="437.50" cy="335.09" r="1.9" fill="#e89a2a" stroke="#222" stroke-width="0.5" />
<circle cx="451.75" cy="327.86" r="1.9" fill="#e89a2a" stroke="#222" stroke-width="0.5" />
<circle cx="465.75" cy="323.04" r="1.9" fill="#e89a2a" stroke="#222" stroke-width="0.5" />
<circle cx="480.00" cy="310.39" r="1.9" fill="#e89a2a" stroke="#222" stroke-width="0.5" />
<circle cx="493.75" cy="298.34" r="1.9" fill="#e89a2a" stroke="#222" stroke-width="0.5" />
<circle cx="507.50" cy="297.74" r="1.9" fill="#e89a2a" stroke="#222" stroke-width="0.5" />
<line x1="391.50" y1="279.20" x2="400.00" y2="279.20" stroke="#eda040" stroke-width="0.9" />
<circle cx="395.70" cy="279.20" r="1.5" fill="#e89a2a" stroke="#333" stroke-width="0.5" />
<line x1="391.50" y1="288.80" x2="400.00" y2="288.80" stroke="#7cc0c0" stroke-width="0.9" />
<circle cx="395.70" cy="288.80" r="1.5" fill="#2f8a88" stroke="#333" stroke-width="0.5" />
<text x="403.80" y="282.10" font-size="8.2" fill="#000" text-anchor="start" font-weight="normal" font-style="normal" stroke="#000" stroke-width="0.17" >26S proteasome</text>
<text x="403.80" y="291.70" font-size="8.2" fill="#000" text-anchor="start" font-weight="normal" font-style="normal" stroke="#000" stroke-width="0.17" >20S proteasome</text>
<text x="0.50" y="416.50" font-size="10.5" fill="#000" text-anchor="start" font-weight="bold" font-style="normal" stroke="#000" stroke-width="0.17" >I</text>
<line x1="43.20" y1="433.60" x2="43.20" y2="495.75" stroke="#444" stroke-width="0.8" />
<line x1="43.20" y1="495.75" x2="166.00" y2="495.75" stroke="#444" stroke-width="0.8" />
<line x1="40.70" y1="492.20" x2="43.20" y2="492.20" stroke="#444" stroke-width="0.8" />
<text x="39.70" y="495.20" font-size="8.2" fill="#000" text-anchor="end" font-weight="normal" font-style="normal" stroke="#000" stroke-width="0.17" >100</text>
<line x1="40.70" y1="477.55" x2="43.20" y2="477.55" stroke="#444" stroke-width="0.8" />
<text x="39.70" y="480.55" font-size="8.2" fill="#000" text-anchor="end" font-weight="normal" font-style="normal" stroke="#000" stroke-width="0.17" >200</text>
<line x1="40.70" y1="462.90" x2="43.20" y2="462.90" stroke="#444" stroke-width="0.8" />
<text x="39.70" y="465.90" font-size="8.2" fill="#000" text-anchor="end" font-weight="normal" font-style="normal" stroke="#000" stroke-width="0.17" >300</text>
<line x1="40.70" y1="448.25" x2="43.20" y2="448.25" stroke="#444" stroke-width="0.8" />
<text x="39.70" y="451.25" font-size="8.2" fill="#000" text-anchor="end" font-weight="normal" font-style="normal" stroke="#000" stroke-width="0.17" >400</text>
<line x1="40.70" y1="433.60" x2="43.20" y2="433.60" stroke="#444" stroke-width="0.8" />
<text x="39.70" y="436.60" font-size="8.2" fill="#000" text-anchor="end" font-weight="normal" font-style="normal" stroke="#000" stroke-width="0.17" >500</text>
<line x1="50.50" y1="495.75" x2="50.50" y2="497.75" stroke="#444" stroke-width="0.7" />
<text transform="translate(55.00,503.25) rotate(-45)" font-size="8.2" text-anchor="end" fill="#000" stroke="#000" stroke-width="0.17">Control</text>
<line x1="63.75" y1="495.75" x2="63.75" y2="497.75" stroke="#444" stroke-width="0.7" />
<text transform="translate(68.25,503.25) rotate(-45)" font-size="8.2" text-anchor="end" fill="#000" stroke="#000" stroke-width="0.17">9.8</text>
<line x1="77.50" y1="495.75" x2="77.50" y2="497.75" stroke="#444" stroke-width="0.7" />
<text transform="translate(82.00,503.25) rotate(-45)" font-size="8.2" text-anchor="end" fill="#000" stroke="#000" stroke-width="0.17">39</text>
<line x1="91.75" y1="495.75" x2="91.75" y2="497.75" stroke="#444" stroke-width="0.7" />
<text transform="translate(96.25,503.25) rotate(-45)" font-size="8.2" text-anchor="end" fill="#000" stroke="#000" stroke-width="0.17">156</text>
<line x1="105.50" y1="495.75" x2="105.50" y2="497.75" stroke="#444" stroke-width="0.7" />
<text transform="translate(110.00,503.25) rotate(-45)" font-size="8.2" text-anchor="end" fill="#000" stroke="#000" stroke-width="0.17">312</text>
<line x1="119.50" y1="495.75" x2="119.50" y2="497.75" stroke="#444" stroke-width="0.7" />
<text transform="translate(124.00,503.25) rotate(-45)" font-size="8.2" text-anchor="end" fill="#000" stroke="#000" stroke-width="0.17">625</text>
<line x1="133.00" y1="495.75" x2="133.00" y2="497.75" stroke="#444" stroke-width="0.7" />
<text transform="translate(137.50,503.25) rotate(-45)" font-size="8.2" text-anchor="end" fill="#000" stroke="#000" stroke-width="0.17">1250</text>
<line x1="147.00" y1="495.75" x2="147.00" y2="497.75" stroke="#444" stroke-width="0.7" />
<text transform="translate(151.50,503.25) rotate(-45)" font-size="8.2" text-anchor="end" fill="#000" stroke="#000" stroke-width="0.17">2500</text>
<line x1="161.00" y1="495.75" x2="161.00" y2="497.75" stroke="#444" stroke-width="0.7" />
<text transform="translate(165.50,503.25) rotate(-45)" font-size="8.2" text-anchor="end" fill="#000" stroke="#000" stroke-width="0.17">5000</text>
<text x="100.00" y="520.80" font-size="8.2" fill="#000" text-anchor="middle" font-weight="normal" font-style="normal" stroke="#000" stroke-width="0.17" >hMIDN (nM)</text>
<text transform="translate(8.20,460.20) rotate(-90)" font-size="7.7" text-anchor="middle" fill="#000" stroke="#000" stroke-width="0.17">LLVY-AMC-hydrolysis</text>
<text transform="translate(17.60,462.70) rotate(-90)" font-size="8.2" text-anchor="middle" fill="#000" stroke="#000" stroke-width="0.17">(% control)</text>
<text x="47.10" y="438.00" font-size="8.2" fill="#000" text-anchor="start" font-weight="normal" font-style="normal" stroke="#000" stroke-width="0.17" >26S Proteasome</text>
<polyline points="50.50,492.20 63.75,495.42 77.50,492.20 91.75,491.03 105.50,490.15 119.50,489.71 133.00,488.54 147.00,488.98 161.00,488.98" fill="none" stroke="#9ab8e4" stroke-width="0.8" stroke-linejoin="round" />
<circle cx="50.50" cy="492.20" r="1.9" fill="#4a78c8" stroke="#222" stroke-width="0.5" />
<circle cx="63.75" cy="495.42" r="1.9" fill="#4a78c8" stroke="#222" stroke-width="0.5" />
<circle cx="77.50" cy="492.20" r="1.9" fill="#4a78c8" stroke="#222" stroke-width="0.5" />
<circle cx="91.75" cy="491.03" r="1.9" fill="#4a78c8" stroke="#222" stroke-width="0.5" />
<circle cx="105.50" cy="490.15" r="1.9" fill="#4a78c8" stroke="#222" stroke-width="0.5" />
<circle cx="119.50" cy="489.71" r="1.9" fill="#4a78c8" stroke="#222" stroke-width="0.5" />
<circle cx="133.00" cy="488.54" r="1.9" fill="#4a78c8" stroke="#222" stroke-width="0.5" />
<circle cx="147.00" cy="488.98" r="1.9" fill="#4a78c8" stroke="#222" stroke-width="0.5" />
<circle cx="161.00" cy="488.98" r="1.9" fill="#4a78c8" stroke="#222" stroke-width="0.5" />
<polyline points="50.50,492.20 63.75,492.20 77.50,489.27 91.75,488.10 105.50,488.54 119.50,488.24 133.00,487.81 147.00,488.83 161.00,488.54" fill="none" stroke="#b8dca8" stroke-width="0.8" stroke-linejoin="round" />
<circle cx="50.50" cy="492.20" r="1.9" fill="#2f8a88" stroke="#222" stroke-width="0.5" />
<circle cx="63.75" cy="492.20" r="1.9" fill="#2f8a88" stroke="#222" stroke-width="0.5" />
<circle cx="77.50" cy="489.27" r="1.9" fill="#2f8a88" stroke="#222" stroke-width="0.5" />
<circle cx="91.75" cy="488.10" r="1.9" fill="#2f8a88" stroke="#222" stroke-width="0.5" />
<circle cx="105.50" cy="488.54" r="1.9" fill="#2f8a88" stroke="#222" stroke-width="0.5" />
<circle cx="119.50" cy="488.24" r="1.9" fill="#2f8a88" stroke="#222" stroke-width="0.5" />
<circle cx="133.00" cy="487.81" r="1.9" fill="#2f8a88" stroke="#222" stroke-width="0.5" />
<circle cx="147.00" cy="488.83" r="1.9" fill="#2f8a88" stroke="#222" stroke-width="0.5" />
<circle cx="161.00" cy="488.54" r="1.9" fill="#2f8a88" stroke="#222" stroke-width="0.5" />
<line x1="63.75" y1="492.49" x2="63.75" y2="490.74" stroke="#e0606c" stroke-width="0.7" />
<line x1="61.95" y1="492.49" x2="65.55" y2="492.49" stroke="#e0606c" stroke-width="0.7" />
<line x1="61.95" y1="490.74" x2="65.55" y2="490.74" stroke="#e0606c" stroke-width="0.7" />
<line x1="77.50" y1="489.71" x2="77.50" y2="487.37" stroke="#e0606c" stroke-width="0.7" />
<line x1="75.70" y1="489.71" x2="79.30" y2="489.71" stroke="#e0606c" stroke-width="0.7" />
<line x1="75.70" y1="487.37" x2="79.30" y2="487.37" stroke="#e0606c" stroke-width="0.7" />
<line x1="91.75" y1="483.70" x2="91.75" y2="477.84" stroke="#e0606c" stroke-width="0.7" />
<line x1="89.95" y1="483.70" x2="93.55" y2="483.70" stroke="#e0606c" stroke-width="0.7" />
<line x1="89.95" y1="477.84" x2="93.55" y2="477.84" stroke="#e0606c" stroke-width="0.7" />
<line x1="133.00" y1="461.44" x2="133.00" y2="455.57" stroke="#e0606c" stroke-width="0.7" />
<line x1="131.20" y1="461.44" x2="134.80" y2="461.44" stroke="#e0606c" stroke-width="0.7" />
<line x1="131.20" y1="455.57" x2="134.80" y2="455.57" stroke="#e0606c" stroke-width="0.7" />
<line x1="147.00" y1="453.08" x2="147.00" y2="447.81" stroke="#e0606c" stroke-width="0.7" />
<line x1="145.20" y1="453.08" x2="148.80" y2="453.08" stroke="#e0606c" stroke-width="0.7" />
<line x1="145.20" y1="447.81" x2="148.80" y2="447.81" stroke="#e0606c" stroke-width="0.7" />
<line x1="161.00" y1="452.21" x2="161.00" y2="444.88" stroke="#e0606c" stroke-width="0.7" />
<line x1="159.20" y1="452.21" x2="162.80" y2="452.21" stroke="#e0606c" stroke-width="0.7" />
<line x1="159.20" y1="444.88" x2="162.80" y2="444.88" stroke="#e0606c" stroke-width="0.7" />
<polyline points="50.50,492.20 63.75,491.61 77.50,488.54 91.75,480.77 105.50,475.35 119.50,469.05 133.00,458.50 147.00,450.45 161.00,448.54" fill="none" stroke="#e8706a" stroke-width="0.8" stroke-linejoin="round" />
<circle cx="50.50" cy="492.20" r="1.9" fill="#e89a2a" stroke="#222" stroke-width="0.5" />
<circle cx="63.75" cy="491.61" r="1.9" fill="#e89a2a" stroke="#222" stroke-width="0.5" />
<circle cx="77.50" cy="488.54" r="1.9" fill="#e89a2a" stroke="#222" stroke-width="0.5" />
<circle cx="91.75" cy="480.77" r="1.9" fill="#e89a2a" stroke="#222" stroke-width="0.5" />
<circle cx="105.50" cy="475.35" r="1.9" fill="#e89a2a" stroke="#222" stroke-width="0.5" />
<circle cx="119.50" cy="469.05" r="1.9" fill="#e89a2a" stroke="#222" stroke-width="0.5" />
<circle cx="133.00" cy="458.50" r="1.9" fill="#e89a2a" stroke="#222" stroke-width="0.5" />
<circle cx="147.00" cy="450.45" r="1.9" fill="#e89a2a" stroke="#222" stroke-width="0.5" />
<circle cx="161.00" cy="448.54" r="1.9" fill="#e89a2a" stroke="#222" stroke-width="0.5" />
<rect x="93.50" y="396.30" width="81.30" height="32.90" fill="#fff" stroke="#555" stroke-width="0.7" />
<line x1="97.20" y1="403.20" x2="105.20" y2="403.20" stroke="#e8706a" stroke-width="0.7" />
<circle cx="101.20" cy="403.20" r="1.9" fill="#e89a2a" stroke="#222" stroke-width="0.5" />
<text x="108.70" y="406.20" font-size="8.2" fill="#000" text-anchor="start" font-weight="normal" font-style="normal" stroke="#000" stroke-width="0.17" >hMIDN WT</text>
<line x1="97.20" y1="413.10" x2="105.20" y2="413.10" stroke="#8cc8a8" stroke-width="0.7" />
<circle cx="101.20" cy="413.10" r="1.9" fill="#2f8a88" stroke="#222" stroke-width="0.5" />
<text x="108.70" y="416.10" font-size="8.2" fill="#000" text-anchor="start" font-weight="normal" font-style="normal" stroke="#000" stroke-width="0.17" >hMIDN-<tspan font-style='italic'>Midnight</tspan></text>
<line x1="97.20" y1="422.30" x2="105.20" y2="422.30" stroke="#9ab8e4" stroke-width="0.7" />
<circle cx="101.20" cy="422.30" r="1.9" fill="#4a78c8" stroke="#222" stroke-width="0.5" />
<text x="108.70" y="425.30" font-size="8.2" fill="#000" text-anchor="start" font-weight="normal" font-style="normal" stroke="#000" stroke-width="0.17" >hMIDN-<tspan font-style='italic'>full_moon</tspan></text>
<text x="178.00" y="417.00" font-size="10.5" fill="#000" text-anchor="start" font-weight="bold" font-style="normal" stroke="#000" stroke-width="0.17" >J</text>
<line x1="212.50" y1="431.35" x2="212.50" y2="492.40" stroke="#444" stroke-width="0.8" />
<line x1="212.50" y1="492.40" x2="335.00" y2="492.40" stroke="#444" stroke-width="0.8" />
<line x1="210.00" y1="492.75" x2="212.50" y2="492.75" stroke="#444" stroke-width="0.8" />
<text x="209.00" y="495.75" font-size="8.2" fill="#000" text-anchor="end" font-weight="normal" font-style="normal" stroke="#000" stroke-width="0.17" >80</text>
<line x1="210.00" y1="477.40" x2="212.50" y2="477.40" stroke="#444" stroke-width="0.8" />
<text x="209.00" y="480.40" font-size="8.2" fill="#000" text-anchor="end" font-weight="normal" font-style="normal" stroke="#000" stroke-width="0.17" >100</text>
<line x1="210.00" y1="462.05" x2="212.50" y2="462.05" stroke="#444" stroke-width="0.8" />
<text x="209.00" y="465.05" font-size="8.2" fill="#000" text-anchor="end" font-weight="normal" font-style="normal" stroke="#000" stroke-width="0.17" >120</text>
<line x1="210.00" y1="446.70" x2="212.50" y2="446.70" stroke="#444" stroke-width="0.8" />
<text x="209.00" y="449.70" font-size="8.2" fill="#000" text-anchor="end" font-weight="normal" font-style="normal" stroke="#000" stroke-width="0.17" >140</text>
<line x1="210.00" y1="431.35" x2="212.50" y2="431.35" stroke="#444" stroke-width="0.8" />
<text x="209.00" y="434.35" font-size="8.2" fill="#000" text-anchor="end" font-weight="normal" font-style="normal" stroke="#000" stroke-width="0.17" >160</text>
<line x1="219.70" y1="492.40" x2="219.70" y2="494.40" stroke="#444" stroke-width="0.7" />
<text transform="translate(224.50,500.70) rotate(-45)" font-size="8.2" text-anchor="end" fill="#000" stroke="#000" stroke-width="0.17">Control</text>
<line x1="233.70" y1="492.40" x2="233.70" y2="494.40" stroke="#444" stroke-width="0.7" />
<text transform="translate(238.50,500.70) rotate(-45)" font-size="8.2" text-anchor="end" fill="#000" stroke="#000" stroke-width="0.17">9.8</text>
<line x1="247.50" y1="492.40" x2="247.50" y2="494.40" stroke="#444" stroke-width="0.7" />
<text transform="translate(252.30,500.70) rotate(-45)" font-size="8.2" text-anchor="end" fill="#000" stroke="#000" stroke-width="0.17">39</text>
<line x1="260.80" y1="492.40" x2="260.80" y2="494.40" stroke="#444" stroke-width="0.7" />
<text transform="translate(265.60,500.70) rotate(-45)" font-size="8.2" text-anchor="end" fill="#000" stroke="#000" stroke-width="0.17">156</text>
<line x1="274.60" y1="492.40" x2="274.60" y2="494.40" stroke="#444" stroke-width="0.7" />
<text transform="translate(279.40,500.70) rotate(-45)" font-size="8.2" text-anchor="end" fill="#000" stroke="#000" stroke-width="0.17">312</text>
<line x1="288.30" y1="492.40" x2="288.30" y2="494.40" stroke="#444" stroke-width="0.7" />
<text transform="translate(293.10,500.70) rotate(-45)" font-size="8.2" text-anchor="end" fill="#000" stroke="#000" stroke-width="0.17">625</text>
<line x1="302.40" y1="492.40" x2="302.40" y2="494.40" stroke="#444" stroke-width="0.7" />
<text transform="translate(307.20,500.70) rotate(-45)" font-size="8.2" text-anchor="end" fill="#000" stroke="#000" stroke-width="0.17">1250</text>
<line x1="316.40" y1="492.40" x2="316.40" y2="494.40" stroke="#444" stroke-width="0.7" />
<text transform="translate(321.20,500.70) rotate(-45)" font-size="8.2" text-anchor="end" fill="#000" stroke="#000" stroke-width="0.17">2500</text>
<line x1="330.10" y1="492.40" x2="330.10" y2="494.40" stroke="#444" stroke-width="0.7" />
<text transform="translate(334.90,500.70) rotate(-45)" font-size="8.2" text-anchor="end" fill="#000" stroke="#000" stroke-width="0.17">5000</text>
<text x="277.50" y="520.40" font-size="8.2" fill="#000" text-anchor="middle" font-weight="normal" font-style="normal" stroke="#000" stroke-width="0.17" >hMIDN (nM)</text>
<text transform="translate(183.80,461.50) rotate(-90)" font-size="8.0" text-anchor="middle" fill="#000" stroke="#000" stroke-width="0.17">LLVY-AMC-hydrolysis</text>
<text transform="translate(193.90,461.50) rotate(-90)" font-size="8.0" text-anchor="middle" fill="#000" stroke="#000" stroke-width="0.17">(% control)</text>
<text x="217.40" y="436.80" font-size="8.2" fill="#000" text-anchor="start" font-weight="normal" font-style="normal" stroke="#000" stroke-width="0.17" >20S Proteasome</text>
<line x1="316.40" y1="483.54" x2="316.40" y2="474.33" stroke="#e0606c" stroke-width="0.7" />
<line x1="314.60" y1="483.54" x2="318.20" y2="483.54" stroke="#e0606c" stroke-width="0.7" />
<line x1="314.60" y1="474.33" x2="318.20" y2="474.33" stroke="#e0606c" stroke-width="0.7" />
<line x1="330.10" y1="474.33" x2="330.10" y2="465.12" stroke="#e0606c" stroke-width="0.7" />
<line x1="328.30" y1="474.33" x2="331.90" y2="474.33" stroke="#e0606c" stroke-width="0.7" />
<line x1="328.30" y1="465.12" x2="331.90" y2="465.12" stroke="#e0606c" stroke-width="0.7" />
<polyline points="219.70,477.40 233.70,483.54 247.50,482.77 260.80,473.56 274.60,469.72 288.30,474.33 302.40,468.19 316.40,478.94 330.10,469.72" fill="none" stroke="#9ab8e4" stroke-width="0.8" stroke-linejoin="round" />
<circle cx="219.70" cy="477.40" r="1.9" fill="#4a78c8" stroke="#222" stroke-width="0.5" />
<circle cx="233.70" cy="483.54" r="1.9" fill="#4a78c8" stroke="#222" stroke-width="0.5" />
<circle cx="247.50" cy="482.77" r="1.9" fill="#4a78c8" stroke="#222" stroke-width="0.5" />
<circle cx="260.80" cy="473.56" r="1.9" fill="#4a78c8" stroke="#222" stroke-width="0.5" />
<circle cx="274.60" cy="469.72" r="1.9" fill="#4a78c8" stroke="#222" stroke-width="0.5" />
<circle cx="288.30" cy="474.33" r="1.9" fill="#4a78c8" stroke="#222" stroke-width="0.5" />
<circle cx="302.40" cy="468.19" r="1.9" fill="#4a78c8" stroke="#222" stroke-width="0.5" />
<circle cx="316.40" cy="478.94" r="1.9" fill="#4a78c8" stroke="#222" stroke-width="0.5" />
<circle cx="330.10" cy="469.72" r="1.9" fill="#4a78c8" stroke="#222" stroke-width="0.5" />
<polyline points="219.70,477.40 233.70,475.86 247.50,470.49 260.80,475.10 274.60,472.03 288.30,474.33 302.40,465.12 316.40,466.65 330.10,476.63" fill="none" stroke="#6ab0a8" stroke-width="0.8" stroke-linejoin="round" />
<circle cx="219.70" cy="477.40" r="1.9" fill="#2f8a88" stroke="#222" stroke-width="0.5" />
<circle cx="233.70" cy="475.86" r="1.9" fill="#2f8a88" stroke="#222" stroke-width="0.5" />
<circle cx="247.50" cy="470.49" r="1.9" fill="#2f8a88" stroke="#222" stroke-width="0.5" />
<circle cx="260.80" cy="475.10" r="1.9" fill="#2f8a88" stroke="#222" stroke-width="0.5" />
<circle cx="274.60" cy="472.03" r="1.9" fill="#2f8a88" stroke="#222" stroke-width="0.5" />
<circle cx="288.30" cy="474.33" r="1.9" fill="#2f8a88" stroke="#222" stroke-width="0.5" />
<circle cx="302.40" cy="465.12" r="1.9" fill="#2f8a88" stroke="#222" stroke-width="0.5" />
<circle cx="316.40" cy="466.65" r="1.9" fill="#2f8a88" stroke="#222" stroke-width="0.5" />
<circle cx="330.10" cy="476.63" r="1.9" fill="#2f8a88" stroke="#222" stroke-width="0.5" />
<line x1="219.70" y1="482.77" x2="219.70" y2="472.03" stroke="#e0606c" stroke-width="0.7" />
<line x1="217.90" y1="482.77" x2="221.50" y2="482.77" stroke="#e0606c" stroke-width="0.7" />
<line x1="217.90" y1="472.03" x2="221.50" y2="472.03" stroke="#e0606c" stroke-width="0.7" />
<line x1="233.70" y1="474.33" x2="233.70" y2="463.58" stroke="#e0606c" stroke-width="0.7" />
<line x1="231.90" y1="474.33" x2="235.50" y2="474.33" stroke="#e0606c" stroke-width="0.7" />
<line x1="231.90" y1="463.58" x2="235.50" y2="463.58" stroke="#e0606c" stroke-width="0.7" />
<line x1="247.50" y1="468.96" x2="247.50" y2="456.68" stroke="#e0606c" stroke-width="0.7" />
<line x1="245.70" y1="468.96" x2="249.30" y2="468.96" stroke="#e0606c" stroke-width="0.7" />
<line x1="245.70" y1="456.68" x2="249.30" y2="456.68" stroke="#e0606c" stroke-width="0.7" />
<line x1="260.80" y1="468.19" x2="260.80" y2="451.30" stroke="#e0606c" stroke-width="0.7" />
<line x1="259.00" y1="468.19" x2="262.60" y2="468.19" stroke="#e0606c" stroke-width="0.7" />
<line x1="259.00" y1="451.30" x2="262.60" y2="451.30" stroke="#e0606c" stroke-width="0.7" />
<line x1="274.60" y1="462.05" x2="274.60" y2="454.38" stroke="#e0606c" stroke-width="0.7" />
<line x1="272.80" y1="462.05" x2="276.40" y2="462.05" stroke="#e0606c" stroke-width="0.7" />
<line x1="272.80" y1="454.38" x2="276.40" y2="454.38" stroke="#e0606c" stroke-width="0.7" />
<line x1="288.30" y1="452.84" x2="288.30" y2="448.23" stroke="#e0606c" stroke-width="0.7" />
<line x1="286.50" y1="452.84" x2="290.10" y2="452.84" stroke="#e0606c" stroke-width="0.7" />
<line x1="286.50" y1="448.23" x2="290.10" y2="448.23" stroke="#e0606c" stroke-width="0.7" />
<line x1="302.40" y1="446.70" x2="302.40" y2="442.09" stroke="#e0606c" stroke-width="0.7" />
<line x1="300.60" y1="446.70" x2="304.20" y2="446.70" stroke="#e0606c" stroke-width="0.7" />
<line x1="300.60" y1="442.09" x2="304.20" y2="442.09" stroke="#e0606c" stroke-width="0.7" />
<line x1="316.40" y1="453.61" x2="316.40" y2="439.79" stroke="#e0606c" stroke-width="0.7" />
<line x1="314.60" y1="453.61" x2="318.20" y2="453.61" stroke="#e0606c" stroke-width="0.7" />
<line x1="314.60" y1="439.79" x2="318.20" y2="439.79" stroke="#e0606c" stroke-width="0.7" />
<line x1="330.10" y1="452.07" x2="330.10" y2="444.40" stroke="#e0606c" stroke-width="0.7" />
<line x1="328.30" y1="452.07" x2="331.90" y2="452.07" stroke="#e0606c" stroke-width="0.7" />
<line x1="328.30" y1="444.40" x2="331.90" y2="444.40" stroke="#e0606c" stroke-width="0.7" />
<polyline points="219.70,477.40 233.70,468.96 247.50,462.82 260.80,459.75 274.60,458.21 288.30,450.54 302.40,444.40 316.40,446.70 330.10,448.23" fill="none" stroke="#f0b060" stroke-width="0.8" stroke-linejoin="round" />
<circle cx="219.70" cy="477.40" r="1.9" fill="#e89a2a" stroke="#222" stroke-width="0.5" />
<circle cx="233.70" cy="468.96" r="1.9" fill="#e89a2a" stroke="#222" stroke-width="0.5" />
<circle cx="247.50" cy="462.82" r="1.9" fill="#e89a2a" stroke="#222" stroke-width="0.5" />
<circle cx="260.80" cy="459.75" r="1.9" fill="#e89a2a" stroke="#222" stroke-width="0.5" />
<circle cx="274.60" cy="458.21" r="1.9" fill="#e89a2a" stroke="#222" stroke-width="0.5" />
<circle cx="288.30" cy="450.54" r="1.9" fill="#e89a2a" stroke="#222" stroke-width="0.5" />
<circle cx="302.40" cy="444.40" r="1.9" fill="#e89a2a" stroke="#222" stroke-width="0.5" />
<circle cx="316.40" cy="446.70" r="1.9" fill="#e89a2a" stroke="#222" stroke-width="0.5" />
<circle cx="330.10" cy="448.23" r="1.9" fill="#e89a2a" stroke="#222" stroke-width="0.5" />
<line x1="233.70" y1="479.70" x2="233.70" y2="472.03" stroke="#f0c070" stroke-width="0.7" />
<line x1="231.90" y1="479.70" x2="235.50" y2="479.70" stroke="#f0c070" stroke-width="0.7" />
<line x1="231.90" y1="472.03" x2="235.50" y2="472.03" stroke="#f0c070" stroke-width="0.7" />
<line x1="247.50" y1="473.56" x2="247.50" y2="467.42" stroke="#f0c070" stroke-width="0.7" />
<line x1="245.70" y1="473.56" x2="249.30" y2="473.56" stroke="#f0c070" stroke-width="0.7" />
<line x1="245.70" y1="467.42" x2="249.30" y2="467.42" stroke="#f0c070" stroke-width="0.7" />
<line x1="260.80" y1="478.94" x2="260.80" y2="471.26" stroke="#f0c070" stroke-width="0.7" />
<line x1="259.00" y1="478.94" x2="262.60" y2="478.94" stroke="#f0c070" stroke-width="0.7" />
<line x1="259.00" y1="471.26" x2="262.60" y2="471.26" stroke="#f0c070" stroke-width="0.7" />
<line x1="274.60" y1="475.10" x2="274.60" y2="468.96" stroke="#f0c070" stroke-width="0.7" />
<line x1="272.80" y1="475.10" x2="276.40" y2="475.10" stroke="#f0c070" stroke-width="0.7" />
<line x1="272.80" y1="468.96" x2="276.40" y2="468.96" stroke="#f0c070" stroke-width="0.7" />
<line x1="288.30" y1="481.24" x2="288.30" y2="467.42" stroke="#f0c070" stroke-width="0.7" />
<line x1="286.50" y1="481.24" x2="290.10" y2="481.24" stroke="#f0c070" stroke-width="0.7" />
<line x1="286.50" y1="467.42" x2="290.10" y2="467.42" stroke="#f0c070" stroke-width="0.7" />
<line x1="302.40" y1="469.72" x2="302.40" y2="460.51" stroke="#f0c070" stroke-width="0.7" />
<line x1="300.60" y1="469.72" x2="304.20" y2="469.72" stroke="#f0c070" stroke-width="0.7" />
<line x1="300.60" y1="460.51" x2="304.20" y2="460.51" stroke="#f0c070" stroke-width="0.7" />
<line x1="330.10" y1="482.00" x2="330.10" y2="471.26" stroke="#f0c070" stroke-width="0.7" />
<line x1="328.30" y1="482.00" x2="331.90" y2="482.00" stroke="#f0c070" stroke-width="0.7" />
<line x1="328.30" y1="471.26" x2="331.90" y2="471.26" stroke="#f0c070" stroke-width="0.7" />
<rect x="263.50" y="396.30" width="83.00" height="32.90" fill="#fff" stroke="#555" stroke-width="0.7" />
<line x1="267.20" y1="403.20" x2="275.20" y2="403.20" stroke="#f0b060" stroke-width="0.7" />
<circle cx="271.20" cy="403.20" r="1.9" fill="#e89a2a" stroke="#222" stroke-width="0.5" />
<text x="278.70" y="406.20" font-size="8.2" fill="#000" text-anchor="start" font-weight="normal" font-style="normal" stroke="#000" stroke-width="0.17" >hMIDN WT</text>
<line x1="267.20" y1="413.10" x2="275.20" y2="413.10" stroke="#6ab0a8" stroke-width="0.7" />
<circle cx="271.20" cy="413.10" r="1.9" fill="#2f8a88" stroke="#222" stroke-width="0.5" />
<text x="278.70" y="416.10" font-size="8.2" fill="#000" text-anchor="start" font-weight="normal" font-style="normal" stroke="#000" stroke-width="0.17" >hMIDN-<tspan font-style='italic'>Midnight</tspan></text>
<line x1="267.20" y1="422.30" x2="275.20" y2="422.30" stroke="#9ab8e4" stroke-width="0.7" />
<circle cx="271.20" cy="422.30" r="1.9" fill="#4a78c8" stroke="#222" stroke-width="0.5" />
<text x="278.70" y="425.30" font-size="8.2" fill="#000" text-anchor="start" font-weight="normal" font-style="normal" stroke="#000" stroke-width="0.17" >hMIDN-<tspan font-style='italic'>full_moon</tspan></text>
<text x="351.50" y="417.50" font-size="10.5" fill="#000" text-anchor="start" font-weight="bold" font-style="normal" stroke="#000" stroke-width="0.17" >K</text>
<line x1="394.50" y1="422.02" x2="394.50" y2="493.30" stroke="#444" stroke-width="0.8" />
<line x1="394.50" y1="493.30" x2="518.00" y2="493.30" stroke="#444" stroke-width="0.8" />
<line x1="392.00" y1="493.30" x2="394.50" y2="493.30" stroke="#444" stroke-width="0.8" />
<text x="391.00" y="496.30" font-size="8.2" fill="#000" text-anchor="end" font-weight="normal" font-style="normal" stroke="#000" stroke-width="0.17" >0</text>
<line x1="392.00" y1="469.54" x2="394.50" y2="469.54" stroke="#444" stroke-width="0.8" />
<text x="391.00" y="472.54" font-size="8.2" fill="#000" text-anchor="end" font-weight="normal" font-style="normal" stroke="#000" stroke-width="0.17" >200</text>
<line x1="392.00" y1="445.78" x2="394.50" y2="445.78" stroke="#444" stroke-width="0.8" />
<text x="391.00" y="448.78" font-size="8.2" fill="#000" text-anchor="end" font-weight="normal" font-style="normal" stroke="#000" stroke-width="0.17" >400</text>
<line x1="392.00" y1="422.02" x2="394.50" y2="422.02" stroke="#444" stroke-width="0.8" />
<text x="391.00" y="425.02" font-size="8.2" fill="#000" text-anchor="end" font-weight="normal" font-style="normal" stroke="#000" stroke-width="0.17" >600</text>
<text transform="translate(368.00,457.20) rotate(-90)" font-size="8.1" text-anchor="middle" fill="#000" stroke="#000" stroke-width="0.17">LLVY-AMC-hydrolysis</text>
<text transform="translate(376.10,461.00) rotate(-90)" font-size="8.1" text-anchor="middle" fill="#000" stroke="#000" stroke-width="0.17">(% control)</text>
<text x="400.50" y="429.50" font-size="8.2" fill="#000" text-anchor="start" font-weight="normal" font-style="normal" stroke="#000" stroke-width="0.17" >26S Proteasome</text>
<rect x="404.00" y="481.42" width="15.60" height="11.88" fill="#000" stroke="none" stroke-width="0.8" />
<line x1="411.80" y1="481.42" x2="411.80" y2="479.28" stroke="#000" stroke-width="0.8" />
<line x1="408.80" y1="479.28" x2="414.80" y2="479.28" stroke="#000" stroke-width="0.8" />
<line x1="411.80" y1="493.30" x2="411.80" y2="495.30" stroke="#444" stroke-width="0.7" />
<text transform="translate(413.80,502.30) rotate(-45)" font-size="8.2" text-anchor="end" fill="#000" stroke="#000" stroke-width="0.17">Control</text>
<rect x="426.50" y="438.65" width="16.30" height="54.65" fill="#000" stroke="none" stroke-width="0.8" />
<line x1="434.65" y1="438.65" x2="434.65" y2="434.73" stroke="#000" stroke-width="0.8" />
<line x1="431.65" y1="434.73" x2="437.65" y2="434.73" stroke="#000" stroke-width="0.8" />
<line x1="434.65" y1="493.30" x2="434.65" y2="495.30" stroke="#444" stroke-width="0.7" />
<text transform="translate(436.65,502.30) rotate(-45)" font-size="8.2" text-anchor="end" fill="#000" stroke="#000" stroke-width="0.17">hMIDN-WT</text>
<rect x="450.00" y="475.48" width="16.30" height="17.82" fill="#000" stroke="none" stroke-width="0.8" />
<line x1="458.15" y1="475.48" x2="458.15" y2="470.97" stroke="#000" stroke-width="0.8" />
<line x1="455.15" y1="470.97" x2="461.15" y2="470.97" stroke="#000" stroke-width="0.8" />
<line x1="458.15" y1="493.30" x2="458.15" y2="495.30" stroke="#444" stroke-width="0.7" />
<text transform="translate(460.15,502.30) rotate(-45)" font-size="8.2" text-anchor="end" fill="#000" stroke="#000" stroke-width="0.17">hMIDN-ΔC-term</text>
<rect x="473.20" y="475.72" width="15.60" height="17.58" fill="#000" stroke="none" stroke-width="0.8" />
<line x1="481.00" y1="475.72" x2="481.00" y2="472.15" stroke="#000" stroke-width="0.8" />
<line x1="478.00" y1="472.15" x2="484.00" y2="472.15" stroke="#000" stroke-width="0.8" />
<line x1="481.00" y1="493.30" x2="481.00" y2="495.30" stroke="#444" stroke-width="0.7" />
<text transform="translate(483.00,502.30) rotate(-45)" font-size="8.2" text-anchor="end" fill="#000" stroke="#000" stroke-width="0.17">hMIDN-ΔUBL</text>
<rect x="496.40" y="479.99" width="15.90" height="13.31" fill="#000" stroke="none" stroke-width="0.8" />
<line x1="504.35" y1="479.99" x2="504.35" y2="479.04" stroke="#000" stroke-width="0.8" />
<line x1="501.35" y1="479.04" x2="507.35" y2="479.04" stroke="#000" stroke-width="0.8" />
<line x1="504.35" y1="493.30" x2="504.35" y2="495.30" stroke="#444" stroke-width="0.7" />
<text transform="translate(506.35,502.30) rotate(-45)" font-size="8.2" text-anchor="end" fill="#000" stroke="#000" stroke-width="0.17">hMIDN-UBL</text>
</svg></body></html>
